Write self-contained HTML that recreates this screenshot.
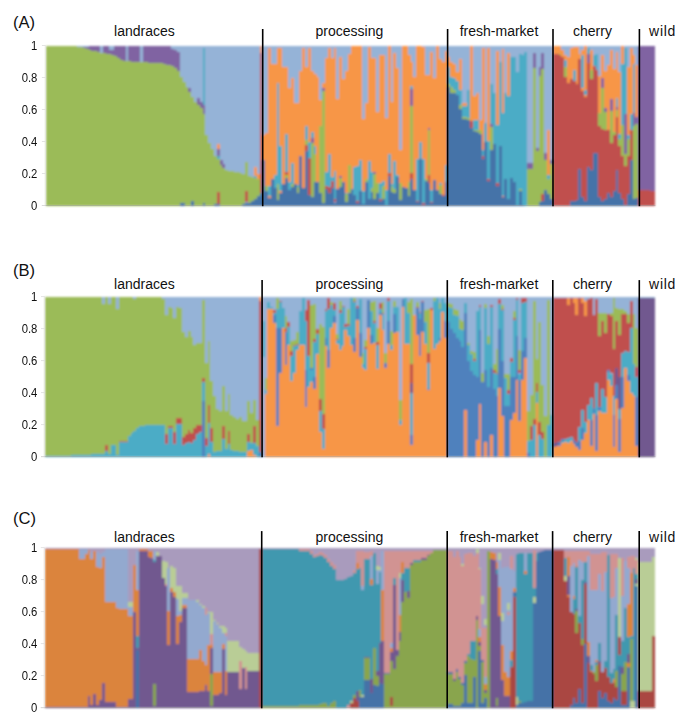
<!DOCTYPE html>
<html><head><meta charset="utf-8"><title>Figure</title>
<style>
html,body{margin:0;padding:0;background:#fff;}
body{width:685px;height:714px;position:relative;overflow:hidden;font-family:"Liberation Sans",sans-serif;color:#111;}
svg{position:absolute;left:0;top:0;}
.pl{position:absolute;left:13px;font-size:16.6px;line-height:18px;}
.g{position:absolute;font-size:14px;line-height:16px;white-space:nowrap;transform:translateX(-50%);}
.y{position:absolute;left:0;width:37.4px;text-align:right;font-size:11.3px;line-height:14px;transform:scaleY(1.07);}
</style></head><body>
<svg width="685" height="714" viewBox="0 0 685 714" shape-rendering="crispEdges">
<defs><filter id="bl" x="-2%" y="-2%" width="104%" height="104%"><feGaussianBlur stdDeviation="0.8"/></filter></defs>
<g filter="url(#bl)">
<rect x="45.9" y="45.5" width="609.47" height="160.2" fill="#95B3D7"/>
<rect x="45.90" y="45.50" width="2.90" height="160.20" fill="#9BBB59"/>
<rect x="48.75" y="45.50" width="2.90" height="160.20" fill="#9BBB59"/>
<rect x="51.60" y="45.66" width="2.90" height="160.04" fill="#9BBB59"/>
<rect x="54.44" y="45.66" width="2.90" height="160.04" fill="#9BBB59"/>
<rect x="57.29" y="45.66" width="2.90" height="160.04" fill="#9BBB59"/>
<rect x="60.14" y="45.66" width="2.90" height="160.04" fill="#9BBB59"/>
<rect x="62.99" y="45.66" width="2.90" height="160.04" fill="#9BBB59"/>
<rect x="62.99" y="45.50" width="2.90" height="0.16" fill="#8064A2"/>
<rect x="65.84" y="45.82" width="2.90" height="159.88" fill="#9BBB59"/>
<rect x="65.84" y="45.50" width="2.90" height="0.32" fill="#8064A2"/>
<rect x="68.68" y="45.82" width="2.90" height="159.88" fill="#9BBB59"/>
<rect x="68.68" y="45.50" width="2.90" height="0.32" fill="#8064A2"/>
<rect x="71.53" y="45.98" width="2.90" height="159.72" fill="#9BBB59"/>
<rect x="71.53" y="45.50" width="2.90" height="0.48" fill="#8064A2"/>
<rect x="74.38" y="46.46" width="2.90" height="159.24" fill="#9BBB59"/>
<rect x="74.38" y="45.50" width="2.90" height="0.96" fill="#8064A2"/>
<rect x="77.23" y="46.78" width="2.90" height="158.92" fill="#9BBB59"/>
<rect x="80.08" y="47.26" width="2.90" height="158.44" fill="#9BBB59"/>
<rect x="80.08" y="46.78" width="2.90" height="0.48" fill="#8064A2"/>
<rect x="82.92" y="48.06" width="2.90" height="157.64" fill="#9BBB59"/>
<rect x="82.92" y="46.78" width="2.90" height="1.28" fill="#8064A2"/>
<rect x="85.77" y="49.02" width="2.90" height="156.68" fill="#9BBB59"/>
<rect x="85.77" y="46.78" width="2.90" height="2.24" fill="#8064A2"/>
<rect x="88.62" y="49.83" width="2.90" height="155.87" fill="#9BBB59"/>
<rect x="88.62" y="45.50" width="2.90" height="4.33" fill="#8064A2"/>
<rect x="91.47" y="50.63" width="2.90" height="155.07" fill="#9BBB59"/>
<rect x="91.47" y="45.50" width="2.90" height="5.13" fill="#8064A2"/>
<rect x="94.32" y="51.43" width="2.90" height="154.27" fill="#9BBB59"/>
<rect x="94.32" y="45.50" width="2.90" height="5.93" fill="#8064A2"/>
<rect x="97.16" y="52.23" width="2.90" height="153.47" fill="#9BBB59"/>
<rect x="97.16" y="45.50" width="2.90" height="6.73" fill="#8064A2"/>
<rect x="100.01" y="52.87" width="2.90" height="152.83" fill="#9BBB59"/>
<rect x="102.86" y="53.35" width="2.90" height="152.35" fill="#9BBB59"/>
<rect x="102.86" y="45.50" width="2.90" height="7.85" fill="#8064A2"/>
<rect x="105.71" y="53.83" width="2.90" height="151.87" fill="#9BBB59"/>
<rect x="105.71" y="45.50" width="2.90" height="8.33" fill="#8064A2"/>
<rect x="108.56" y="54.31" width="2.90" height="151.39" fill="#9BBB59"/>
<rect x="108.56" y="49.50" width="2.90" height="4.81" fill="#8064A2"/>
<rect x="111.40" y="54.79" width="2.90" height="150.91" fill="#9BBB59"/>
<rect x="111.40" y="49.67" width="2.90" height="5.13" fill="#8064A2"/>
<rect x="114.25" y="56.23" width="2.90" height="149.47" fill="#9BBB59"/>
<rect x="114.25" y="45.50" width="2.90" height="10.73" fill="#8064A2"/>
<rect x="117.10" y="58.32" width="2.90" height="147.38" fill="#9BBB59"/>
<rect x="117.10" y="45.50" width="2.90" height="12.82" fill="#8064A2"/>
<rect x="119.95" y="60.40" width="2.90" height="145.30" fill="#9BBB59"/>
<rect x="119.95" y="45.50" width="2.90" height="14.90" fill="#8064A2"/>
<rect x="122.80" y="60.72" width="2.90" height="144.98" fill="#9BBB59"/>
<rect x="122.80" y="45.50" width="2.90" height="15.22" fill="#8064A2"/>
<rect x="125.64" y="61.04" width="2.90" height="144.66" fill="#9BBB59"/>
<rect x="128.49" y="61.36" width="2.90" height="144.34" fill="#9BBB59"/>
<rect x="128.49" y="45.50" width="2.90" height="15.86" fill="#8064A2"/>
<rect x="131.34" y="61.68" width="2.90" height="144.02" fill="#9BBB59"/>
<rect x="131.34" y="45.50" width="2.90" height="16.18" fill="#8064A2"/>
<rect x="134.19" y="62.00" width="2.90" height="143.70" fill="#9BBB59"/>
<rect x="134.19" y="45.50" width="2.90" height="16.50" fill="#8064A2"/>
<rect x="137.04" y="62.16" width="2.90" height="143.54" fill="#9BBB59"/>
<rect x="137.04" y="45.50" width="2.90" height="16.66" fill="#8064A2"/>
<rect x="139.88" y="62.32" width="2.90" height="143.38" fill="#9BBB59"/>
<rect x="142.73" y="62.48" width="2.90" height="143.22" fill="#9BBB59"/>
<rect x="142.73" y="45.50" width="2.90" height="16.98" fill="#8064A2"/>
<rect x="145.58" y="62.48" width="2.90" height="143.22" fill="#9BBB59"/>
<rect x="145.58" y="45.50" width="2.90" height="16.98" fill="#8064A2"/>
<rect x="148.43" y="62.64" width="2.90" height="143.06" fill="#9BBB59"/>
<rect x="148.43" y="45.50" width="2.90" height="17.14" fill="#8064A2"/>
<rect x="151.28" y="62.64" width="2.90" height="143.06" fill="#9BBB59"/>
<rect x="151.28" y="45.50" width="2.90" height="17.14" fill="#8064A2"/>
<rect x="154.12" y="62.80" width="2.90" height="142.90" fill="#9BBB59"/>
<rect x="154.12" y="45.50" width="2.90" height="17.30" fill="#8064A2"/>
<rect x="156.97" y="62.96" width="2.90" height="142.74" fill="#9BBB59"/>
<rect x="156.97" y="45.50" width="2.90" height="17.46" fill="#8064A2"/>
<rect x="159.82" y="63.28" width="2.90" height="142.42" fill="#9BBB59"/>
<rect x="159.82" y="45.50" width="2.90" height="17.78" fill="#8064A2"/>
<rect x="162.67" y="64.08" width="2.90" height="141.62" fill="#9BBB59"/>
<rect x="162.67" y="45.50" width="2.90" height="18.58" fill="#8064A2"/>
<rect x="165.52" y="64.72" width="2.90" height="140.98" fill="#9BBB59"/>
<rect x="165.52" y="45.50" width="2.90" height="19.22" fill="#8064A2"/>
<rect x="168.36" y="65.36" width="2.90" height="140.34" fill="#9BBB59"/>
<rect x="168.36" y="45.50" width="2.90" height="19.86" fill="#8064A2"/>
<rect x="171.21" y="66.17" width="2.90" height="139.53" fill="#9BBB59"/>
<rect x="171.21" y="48.70" width="2.90" height="17.46" fill="#8064A2"/>
<rect x="174.06" y="68.09" width="2.90" height="137.61" fill="#9BBB59"/>
<rect x="174.06" y="49.50" width="2.90" height="18.58" fill="#8064A2"/>
<rect x="176.91" y="71.29" width="2.90" height="134.41" fill="#9BBB59"/>
<rect x="176.91" y="51.91" width="2.90" height="19.38" fill="#8064A2"/>
<rect x="179.76" y="202.50" width="2.90" height="3.20" fill="#4573A8"/>
<rect x="179.76" y="76.90" width="2.90" height="125.60" fill="#9BBB59"/>
<rect x="182.60" y="202.50" width="2.90" height="3.20" fill="#4573A8"/>
<rect x="182.60" y="82.03" width="2.90" height="120.47" fill="#9BBB59"/>
<rect x="185.45" y="86.83" width="2.90" height="118.87" fill="#9BBB59"/>
<rect x="188.30" y="91.64" width="2.90" height="114.06" fill="#9BBB59"/>
<rect x="188.30" y="87.95" width="2.90" height="3.68" fill="#8064A2"/>
<rect x="191.15" y="201.37" width="2.90" height="4.33" fill="#4573A8"/>
<rect x="191.15" y="96.92" width="2.90" height="104.45" fill="#9BBB59"/>
<rect x="194.00" y="102.21" width="2.90" height="103.49" fill="#9BBB59"/>
<rect x="196.84" y="104.77" width="2.90" height="100.93" fill="#9BBB59"/>
<rect x="196.84" y="97.56" width="2.90" height="7.21" fill="#8064A2"/>
<rect x="199.69" y="107.98" width="2.90" height="97.72" fill="#9BBB59"/>
<rect x="199.69" y="102.37" width="2.90" height="5.61" fill="#8064A2"/>
<rect x="202.54" y="202.50" width="2.90" height="3.20" fill="#4573A8"/>
<rect x="202.54" y="113.59" width="2.90" height="88.91" fill="#9BBB59"/>
<rect x="202.54" y="104.77" width="2.90" height="8.81" fill="#8064A2"/>
<rect x="202.54" y="47.90" width="2.90" height="56.87" fill="#4BACC6"/>
<rect x="205.39" y="135.21" width="2.90" height="70.49" fill="#9BBB59"/>
<rect x="208.24" y="142.58" width="2.90" height="63.12" fill="#9BBB59"/>
<rect x="211.08" y="149.47" width="2.90" height="56.23" fill="#9BBB59"/>
<rect x="213.93" y="203.78" width="2.90" height="1.92" fill="#4573A8"/>
<rect x="213.93" y="156.20" width="2.90" height="47.58" fill="#9BBB59"/>
<rect x="216.78" y="203.78" width="2.90" height="1.92" fill="#4573A8"/>
<rect x="216.78" y="192.08" width="2.90" height="11.69" fill="#C0504D"/>
<rect x="216.78" y="159.24" width="2.90" height="32.84" fill="#9BBB59"/>
<rect x="216.78" y="156.04" width="2.90" height="3.20" fill="#4BACC6"/>
<rect x="216.78" y="148.83" width="2.90" height="7.21" fill="#8064A2"/>
<rect x="216.78" y="144.02" width="2.90" height="4.81" fill="#F79646"/>
<rect x="219.63" y="165.49" width="2.90" height="40.21" fill="#9BBB59"/>
<rect x="219.63" y="160.04" width="2.90" height="5.45" fill="#8064A2"/>
<rect x="222.48" y="168.05" width="2.90" height="37.65" fill="#9BBB59"/>
<rect x="222.48" y="164.05" width="2.90" height="4.00" fill="#8064A2"/>
<rect x="225.32" y="169.82" width="2.90" height="35.88" fill="#9BBB59"/>
<rect x="228.17" y="170.78" width="2.90" height="34.92" fill="#9BBB59"/>
<rect x="231.02" y="171.26" width="2.90" height="34.44" fill="#9BBB59"/>
<rect x="233.87" y="171.90" width="2.90" height="33.80" fill="#9BBB59"/>
<rect x="236.72" y="172.38" width="2.90" height="33.32" fill="#9BBB59"/>
<rect x="239.56" y="173.18" width="2.90" height="32.52" fill="#9BBB59"/>
<rect x="242.41" y="204.10" width="2.90" height="1.60" fill="#4573A8"/>
<rect x="242.41" y="173.98" width="2.90" height="30.12" fill="#9BBB59"/>
<rect x="245.26" y="202.50" width="2.90" height="3.20" fill="#4573A8"/>
<rect x="245.26" y="191.28" width="2.90" height="11.21" fill="#C0504D"/>
<rect x="245.26" y="162.45" width="2.90" height="28.84" fill="#9BBB59"/>
<rect x="248.11" y="203.30" width="2.90" height="2.40" fill="#4573A8"/>
<rect x="248.11" y="175.74" width="2.90" height="27.55" fill="#9BBB59"/>
<rect x="250.96" y="200.89" width="2.90" height="4.81" fill="#4573A8"/>
<rect x="250.96" y="176.70" width="2.90" height="24.19" fill="#9BBB59"/>
<rect x="253.80" y="198.49" width="2.90" height="7.21" fill="#4573A8"/>
<rect x="253.80" y="178.47" width="2.90" height="20.03" fill="#9BBB59"/>
<rect x="253.80" y="176.06" width="2.90" height="2.40" fill="#4BACC6"/>
<rect x="253.80" y="167.25" width="2.90" height="8.81" fill="#F79646"/>
<rect x="256.65" y="196.09" width="2.90" height="9.61" fill="#4573A8"/>
<rect x="256.65" y="179.27" width="2.90" height="16.82" fill="#9BBB59"/>
<rect x="256.65" y="173.66" width="2.90" height="5.61" fill="#F79646"/>
<rect x="259.50" y="192.88" width="2.90" height="12.82" fill="#4573A8"/>
<rect x="259.50" y="52.71" width="2.90" height="140.17" fill="#C0504D"/>
<rect x="259.50" y="45.50" width="2.90" height="7.21" fill="#F79646"/>
<rect x="262.35" y="160.20" width="2.90" height="45.50" fill="#4573A8"/>
<rect x="262.35" y="134.57" width="2.90" height="25.63" fill="#F79646"/>
<rect x="265.20" y="191.44" width="2.90" height="14.26" fill="#4573A8"/>
<rect x="265.20" y="186.00" width="2.90" height="5.45" fill="#9BBB59"/>
<rect x="265.20" y="133.29" width="2.90" height="52.71" fill="#F79646"/>
<rect x="268.04" y="198.01" width="2.90" height="7.69" fill="#4573A8"/>
<rect x="268.04" y="196.09" width="2.90" height="1.92" fill="#F79646"/>
<rect x="268.04" y="186.48" width="2.90" height="9.61" fill="#4BACC6"/>
<rect x="268.04" y="48.22" width="2.90" height="138.25" fill="#F79646"/>
<rect x="270.89" y="178.79" width="2.90" height="26.91" fill="#4573A8"/>
<rect x="270.89" y="64.40" width="2.90" height="114.38" fill="#F79646"/>
<rect x="273.74" y="188.08" width="2.90" height="17.62" fill="#4573A8"/>
<rect x="273.74" y="174.62" width="2.90" height="13.46" fill="#4BACC6"/>
<rect x="273.74" y="64.40" width="2.90" height="110.22" fill="#F79646"/>
<rect x="276.59" y="200.41" width="2.90" height="5.29" fill="#4573A8"/>
<rect x="276.59" y="184.23" width="2.90" height="16.18" fill="#9BBB59"/>
<rect x="276.59" y="82.99" width="2.90" height="101.25" fill="#4BACC6"/>
<rect x="276.59" y="48.22" width="2.90" height="34.76" fill="#F79646"/>
<rect x="279.44" y="192.88" width="2.90" height="12.82" fill="#4573A8"/>
<rect x="279.44" y="191.28" width="2.90" height="1.60" fill="#F79646"/>
<rect x="279.44" y="145.95" width="2.90" height="45.34" fill="#4BACC6"/>
<rect x="279.44" y="48.22" width="2.90" height="97.72" fill="#F79646"/>
<rect x="282.28" y="184.23" width="2.90" height="21.47" fill="#4573A8"/>
<rect x="282.28" y="67.45" width="2.90" height="116.79" fill="#F79646"/>
<rect x="285.13" y="178.31" width="2.90" height="27.39" fill="#4573A8"/>
<rect x="285.13" y="175.26" width="2.90" height="3.04" fill="#9BBB59"/>
<rect x="285.13" y="172.22" width="2.90" height="3.04" fill="#C0504D"/>
<rect x="285.13" y="133.93" width="2.90" height="38.29" fill="#4BACC6"/>
<rect x="285.13" y="67.45" width="2.90" height="66.48" fill="#F79646"/>
<rect x="287.98" y="190.16" width="2.90" height="15.54" fill="#4573A8"/>
<rect x="287.98" y="181.83" width="2.90" height="8.33" fill="#4BACC6"/>
<rect x="287.98" y="87.79" width="2.90" height="94.04" fill="#F79646"/>
<rect x="290.83" y="187.28" width="2.90" height="18.42" fill="#4573A8"/>
<rect x="290.83" y="184.23" width="2.90" height="3.04" fill="#9BBB59"/>
<rect x="290.83" y="162.61" width="2.90" height="21.63" fill="#4BACC6"/>
<rect x="290.83" y="78.18" width="2.90" height="84.43" fill="#F79646"/>
<rect x="293.68" y="184.23" width="2.90" height="21.47" fill="#4573A8"/>
<rect x="293.68" y="103.49" width="2.90" height="80.74" fill="#F79646"/>
<rect x="296.52" y="193.20" width="2.90" height="12.50" fill="#4573A8"/>
<rect x="296.52" y="186.64" width="2.90" height="6.57" fill="#9BBB59"/>
<rect x="296.52" y="184.87" width="2.90" height="1.76" fill="#4BACC6"/>
<rect x="296.52" y="103.49" width="2.90" height="81.38" fill="#F79646"/>
<rect x="299.37" y="156.04" width="2.90" height="49.66" fill="#4573A8"/>
<rect x="299.37" y="71.13" width="2.90" height="84.91" fill="#F79646"/>
<rect x="302.22" y="188.08" width="2.90" height="17.62" fill="#4573A8"/>
<rect x="302.22" y="47.58" width="2.90" height="140.50" fill="#F79646"/>
<rect x="305.07" y="151.23" width="2.90" height="54.47" fill="#4573A8"/>
<rect x="305.07" y="145.30" width="2.90" height="5.93" fill="#C0504D"/>
<rect x="305.07" y="140.02" width="2.90" height="5.29" fill="#9BBB59"/>
<rect x="305.07" y="125.60" width="2.90" height="14.42" fill="#4BACC6"/>
<rect x="305.07" y="67.45" width="2.90" height="58.15" fill="#F79646"/>
<rect x="307.92" y="194.97" width="2.90" height="10.73" fill="#4573A8"/>
<rect x="307.92" y="158.44" width="2.90" height="36.53" fill="#C0504D"/>
<rect x="307.92" y="142.26" width="2.90" height="16.18" fill="#4BACC6"/>
<rect x="307.92" y="48.22" width="2.90" height="94.04" fill="#F79646"/>
<rect x="310.76" y="196.89" width="2.90" height="8.81" fill="#4573A8"/>
<rect x="310.76" y="142.90" width="2.90" height="53.99" fill="#9BBB59"/>
<rect x="310.76" y="138.42" width="2.90" height="4.49" fill="#8064A2"/>
<rect x="310.76" y="131.53" width="2.90" height="6.89" fill="#4BACC6"/>
<rect x="310.76" y="71.13" width="2.90" height="60.40" fill="#F79646"/>
<rect x="313.61" y="182.47" width="2.90" height="23.23" fill="#4573A8"/>
<rect x="313.61" y="154.44" width="2.90" height="28.04" fill="#9BBB59"/>
<rect x="313.61" y="145.95" width="2.90" height="8.49" fill="#4BACC6"/>
<rect x="313.61" y="74.02" width="2.90" height="71.93" fill="#F79646"/>
<rect x="316.46" y="181.83" width="2.90" height="23.87" fill="#4573A8"/>
<rect x="316.46" y="77.06" width="2.90" height="104.77" fill="#F79646"/>
<rect x="319.31" y="192.88" width="2.90" height="12.82" fill="#4573A8"/>
<rect x="319.31" y="125.60" width="2.90" height="67.28" fill="#9BBB59"/>
<rect x="319.31" y="99.81" width="2.90" height="25.79" fill="#F79646"/>
<rect x="322.16" y="203.46" width="2.90" height="2.24" fill="#4573A8"/>
<rect x="322.16" y="91.48" width="2.90" height="111.98" fill="#9BBB59"/>
<rect x="322.16" y="87.79" width="2.90" height="3.68" fill="#8064A2"/>
<rect x="322.16" y="82.99" width="2.90" height="4.81" fill="#F79646"/>
<rect x="325.00" y="189.04" width="2.90" height="16.66" fill="#4573A8"/>
<rect x="325.00" y="186.48" width="2.90" height="2.56" fill="#C0504D"/>
<rect x="325.00" y="172.06" width="2.90" height="14.42" fill="#4BACC6"/>
<rect x="325.00" y="57.84" width="2.90" height="114.22" fill="#F79646"/>
<rect x="327.85" y="192.88" width="2.90" height="12.82" fill="#4573A8"/>
<rect x="327.85" y="186.64" width="2.90" height="6.25" fill="#C0504D"/>
<rect x="327.85" y="154.44" width="2.90" height="32.20" fill="#4BACC6"/>
<rect x="327.85" y="47.58" width="2.90" height="106.85" fill="#F79646"/>
<rect x="330.70" y="188.08" width="2.90" height="17.62" fill="#4573A8"/>
<rect x="330.70" y="181.19" width="2.90" height="6.89" fill="#C0504D"/>
<rect x="330.70" y="177.02" width="2.90" height="4.17" fill="#4BACC6"/>
<rect x="330.70" y="57.84" width="2.90" height="119.19" fill="#F79646"/>
<rect x="333.55" y="202.50" width="2.90" height="3.20" fill="#4573A8"/>
<rect x="333.55" y="198.65" width="2.90" height="3.84" fill="#C0504D"/>
<rect x="333.55" y="171.10" width="2.90" height="27.55" fill="#4BACC6"/>
<rect x="333.55" y="47.58" width="2.90" height="123.51" fill="#F79646"/>
<rect x="336.40" y="189.04" width="2.90" height="16.66" fill="#4573A8"/>
<rect x="336.40" y="98.69" width="2.90" height="90.35" fill="#F79646"/>
<rect x="339.24" y="187.28" width="2.90" height="18.42" fill="#4573A8"/>
<rect x="339.24" y="178.31" width="2.90" height="8.97" fill="#9BBB59"/>
<rect x="339.24" y="175.90" width="2.90" height="2.40" fill="#8064A2"/>
<rect x="339.24" y="56.71" width="2.90" height="119.19" fill="#F79646"/>
<rect x="342.09" y="181.83" width="2.90" height="23.87" fill="#4573A8"/>
<rect x="342.09" y="79.46" width="2.90" height="102.37" fill="#F79646"/>
<rect x="344.94" y="202.18" width="2.90" height="3.52" fill="#4573A8"/>
<rect x="344.94" y="193.85" width="2.90" height="8.33" fill="#9BBB59"/>
<rect x="344.94" y="192.88" width="2.90" height="0.96" fill="#4BACC6"/>
<rect x="344.94" y="71.13" width="2.90" height="121.75" fill="#F79646"/>
<rect x="347.79" y="192.56" width="2.90" height="13.14" fill="#4573A8"/>
<rect x="347.79" y="164.53" width="2.90" height="28.03" fill="#9BBB59"/>
<rect x="347.79" y="54.31" width="2.90" height="110.22" fill="#F79646"/>
<rect x="350.64" y="189.04" width="2.90" height="16.66" fill="#4573A8"/>
<rect x="350.64" y="45.50" width="2.90" height="143.54" fill="#F79646"/>
<rect x="353.48" y="194.97" width="2.90" height="10.73" fill="#4573A8"/>
<rect x="353.48" y="166.77" width="2.90" height="28.20" fill="#4BACC6"/>
<rect x="353.48" y="45.50" width="2.90" height="121.27" fill="#F79646"/>
<rect x="356.33" y="202.82" width="2.90" height="2.88" fill="#4573A8"/>
<rect x="356.33" y="201.21" width="2.90" height="1.60" fill="#C0504D"/>
<rect x="356.33" y="166.29" width="2.90" height="34.92" fill="#4BACC6"/>
<rect x="356.33" y="45.50" width="2.90" height="120.79" fill="#F79646"/>
<rect x="359.18" y="191.44" width="2.90" height="14.26" fill="#4573A8"/>
<rect x="359.18" y="160.20" width="2.90" height="31.24" fill="#4BACC6"/>
<rect x="359.18" y="45.50" width="2.90" height="114.70" fill="#F79646"/>
<rect x="362.03" y="204.10" width="2.90" height="1.60" fill="#4573A8"/>
<rect x="362.03" y="191.44" width="2.90" height="12.66" fill="#4BACC6"/>
<rect x="362.03" y="119.03" width="2.90" height="72.41" fill="#F79646"/>
<rect x="364.88" y="181.83" width="2.90" height="23.87" fill="#4573A8"/>
<rect x="364.88" y="178.79" width="2.90" height="3.04" fill="#9BBB59"/>
<rect x="364.88" y="103.49" width="2.90" height="75.29" fill="#F79646"/>
<rect x="367.72" y="198.65" width="2.90" height="7.05" fill="#4573A8"/>
<rect x="367.72" y="161.48" width="2.90" height="37.17" fill="#4BACC6"/>
<rect x="367.72" y="47.10" width="2.90" height="114.38" fill="#F79646"/>
<rect x="370.57" y="192.08" width="2.90" height="13.62" fill="#4573A8"/>
<rect x="370.57" y="188.08" width="2.90" height="4.01" fill="#9BBB59"/>
<rect x="370.57" y="172.22" width="2.90" height="15.86" fill="#4BACC6"/>
<rect x="370.57" y="57.84" width="2.90" height="114.38" fill="#F79646"/>
<rect x="373.42" y="198.65" width="2.90" height="7.05" fill="#4573A8"/>
<rect x="373.42" y="173.66" width="2.90" height="24.99" fill="#9BBB59"/>
<rect x="373.42" y="171.58" width="2.90" height="2.08" fill="#8064A2"/>
<rect x="373.42" y="57.84" width="2.90" height="113.74" fill="#F79646"/>
<rect x="376.27" y="193.20" width="2.90" height="12.50" fill="#4573A8"/>
<rect x="376.27" y="183.11" width="2.90" height="10.09" fill="#9BBB59"/>
<rect x="376.27" y="111.82" width="2.90" height="71.29" fill="#F79646"/>
<rect x="379.12" y="201.05" width="2.90" height="4.65" fill="#4573A8"/>
<rect x="379.12" y="199.29" width="2.90" height="1.76" fill="#C0504D"/>
<rect x="379.12" y="183.11" width="2.90" height="16.18" fill="#4BACC6"/>
<rect x="379.12" y="55.43" width="2.90" height="127.68" fill="#F79646"/>
<rect x="381.96" y="199.29" width="2.90" height="6.41" fill="#4573A8"/>
<rect x="381.96" y="185.51" width="2.90" height="13.78" fill="#9BBB59"/>
<rect x="381.96" y="180.71" width="2.90" height="4.81" fill="#4BACC6"/>
<rect x="381.96" y="55.43" width="2.90" height="125.28" fill="#F79646"/>
<rect x="384.81" y="204.58" width="2.90" height="1.12" fill="#4573A8"/>
<rect x="384.81" y="190.16" width="2.90" height="14.42" fill="#4BACC6"/>
<rect x="384.81" y="117.75" width="2.90" height="72.41" fill="#F79646"/>
<rect x="387.66" y="175.90" width="2.90" height="29.80" fill="#4573A8"/>
<rect x="387.66" y="172.86" width="2.90" height="3.04" fill="#C0504D"/>
<rect x="387.66" y="154.28" width="2.90" height="18.58" fill="#4BACC6"/>
<rect x="387.66" y="45.50" width="2.90" height="108.78" fill="#F79646"/>
<rect x="390.51" y="192.08" width="2.90" height="13.62" fill="#4573A8"/>
<rect x="390.51" y="185.51" width="2.90" height="6.57" fill="#9BBB59"/>
<rect x="390.51" y="184.23" width="2.90" height="1.28" fill="#4BACC6"/>
<rect x="390.51" y="102.21" width="2.90" height="82.02" fill="#F79646"/>
<rect x="393.36" y="193.20" width="2.90" height="12.50" fill="#4573A8"/>
<rect x="393.36" y="189.04" width="2.90" height="4.17" fill="#9BBB59"/>
<rect x="393.36" y="161.48" width="2.90" height="27.55" fill="#4BACC6"/>
<rect x="393.36" y="53.03" width="2.90" height="108.46" fill="#F79646"/>
<rect x="396.20" y="177.02" width="2.90" height="28.68" fill="#4573A8"/>
<rect x="396.20" y="174.62" width="2.90" height="2.40" fill="#4BACC6"/>
<rect x="396.20" y="67.93" width="2.90" height="106.69" fill="#F79646"/>
<rect x="399.05" y="199.77" width="2.90" height="5.93" fill="#4573A8"/>
<rect x="399.05" y="183.11" width="2.90" height="16.66" fill="#9BBB59"/>
<rect x="399.05" y="150.11" width="2.90" height="33.00" fill="#F79646"/>
<rect x="401.90" y="186.64" width="2.90" height="19.06" fill="#4573A8"/>
<rect x="401.90" y="45.50" width="2.90" height="141.14" fill="#F79646"/>
<rect x="404.75" y="188.40" width="2.90" height="17.30" fill="#4573A8"/>
<rect x="404.75" y="45.50" width="2.90" height="142.90" fill="#F79646"/>
<rect x="407.60" y="196.25" width="2.90" height="9.45" fill="#4573A8"/>
<rect x="407.60" y="181.83" width="2.90" height="14.42" fill="#9BBB59"/>
<rect x="407.60" y="55.43" width="2.90" height="126.40" fill="#F79646"/>
<rect x="410.44" y="178.79" width="2.90" height="26.91" fill="#4573A8"/>
<rect x="410.44" y="172.86" width="2.90" height="5.93" fill="#C0504D"/>
<rect x="410.44" y="105.90" width="2.90" height="66.96" fill="#9BBB59"/>
<rect x="410.44" y="89.07" width="2.90" height="16.82" fill="#8064A2"/>
<rect x="410.44" y="86.03" width="2.90" height="3.04" fill="#4BACC6"/>
<rect x="410.44" y="61.52" width="2.90" height="24.51" fill="#F79646"/>
<rect x="413.29" y="189.68" width="2.90" height="16.02" fill="#4573A8"/>
<rect x="413.29" y="77.06" width="2.90" height="112.62" fill="#F79646"/>
<rect x="416.14" y="202.18" width="2.90" height="3.52" fill="#4573A8"/>
<rect x="416.14" y="200.89" width="2.90" height="1.28" fill="#C0504D"/>
<rect x="416.14" y="159.08" width="2.90" height="41.81" fill="#4BACC6"/>
<rect x="416.14" y="46.30" width="2.90" height="112.78" fill="#F79646"/>
<rect x="418.99" y="159.08" width="2.90" height="46.62" fill="#4573A8"/>
<rect x="418.99" y="142.26" width="2.90" height="16.82" fill="#4BACC6"/>
<rect x="418.99" y="45.50" width="2.90" height="96.76" fill="#F79646"/>
<rect x="421.84" y="204.58" width="2.90" height="1.12" fill="#4573A8"/>
<rect x="421.84" y="203.30" width="2.90" height="1.28" fill="#C0504D"/>
<rect x="421.84" y="159.08" width="2.90" height="44.22" fill="#4BACC6"/>
<rect x="421.84" y="47.10" width="2.90" height="111.98" fill="#F79646"/>
<rect x="424.68" y="181.19" width="2.90" height="24.51" fill="#4573A8"/>
<rect x="424.68" y="179.27" width="2.90" height="1.92" fill="#9BBB59"/>
<rect x="424.68" y="74.66" width="2.90" height="104.61" fill="#F79646"/>
<rect x="427.53" y="183.11" width="2.90" height="22.59" fill="#4573A8"/>
<rect x="427.53" y="174.62" width="2.90" height="8.49" fill="#C0504D"/>
<rect x="427.53" y="130.25" width="2.90" height="44.38" fill="#9BBB59"/>
<rect x="427.53" y="128.48" width="2.90" height="1.76" fill="#8064A2"/>
<rect x="427.53" y="74.66" width="2.90" height="53.83" fill="#F79646"/>
<rect x="430.38" y="203.46" width="2.90" height="2.24" fill="#4573A8"/>
<rect x="430.38" y="202.18" width="2.90" height="1.28" fill="#C0504D"/>
<rect x="430.38" y="189.68" width="2.90" height="12.50" fill="#4BACC6"/>
<rect x="430.38" y="52.39" width="2.90" height="137.29" fill="#F79646"/>
<rect x="433.23" y="180.07" width="2.90" height="25.63" fill="#4573A8"/>
<rect x="433.23" y="78.18" width="2.90" height="101.89" fill="#F79646"/>
<rect x="436.08" y="189.68" width="2.90" height="16.02" fill="#4573A8"/>
<rect x="436.08" y="46.30" width="2.90" height="143.38" fill="#F79646"/>
<rect x="438.92" y="194.49" width="2.90" height="11.21" fill="#4573A8"/>
<rect x="438.92" y="184.87" width="2.90" height="9.61" fill="#9BBB59"/>
<rect x="438.92" y="183.11" width="2.90" height="1.76" fill="#4BACC6"/>
<rect x="438.92" y="59.12" width="2.90" height="123.99" fill="#F79646"/>
<rect x="441.77" y="196.25" width="2.90" height="9.45" fill="#4573A8"/>
<rect x="441.77" y="195.29" width="2.90" height="0.96" fill="#C0504D"/>
<rect x="441.77" y="61.52" width="2.90" height="133.77" fill="#F79646"/>
<rect x="444.62" y="181.83" width="2.90" height="23.87" fill="#4573A8"/>
<rect x="444.62" y="164.53" width="2.90" height="17.30" fill="#4BACC6"/>
<rect x="444.62" y="50.63" width="2.90" height="113.90" fill="#F79646"/>
<rect x="447.47" y="87.15" width="2.90" height="118.55" fill="#4573A8"/>
<rect x="447.47" y="84.27" width="2.90" height="2.88" fill="#9BBB59"/>
<rect x="447.47" y="66.81" width="2.90" height="17.46" fill="#4BACC6"/>
<rect x="447.47" y="57.19" width="2.90" height="9.61" fill="#F79646"/>
<rect x="450.32" y="92.60" width="2.90" height="113.10" fill="#4573A8"/>
<rect x="450.32" y="86.67" width="2.90" height="5.93" fill="#9BBB59"/>
<rect x="450.32" y="77.06" width="2.90" height="9.61" fill="#4BACC6"/>
<rect x="450.32" y="61.52" width="2.90" height="15.54" fill="#F79646"/>
<rect x="453.16" y="92.60" width="2.90" height="113.10" fill="#4573A8"/>
<rect x="453.16" y="90.36" width="2.90" height="2.24" fill="#9BBB59"/>
<rect x="453.16" y="78.18" width="2.90" height="12.18" fill="#4BACC6"/>
<rect x="453.16" y="63.92" width="2.90" height="14.26" fill="#F79646"/>
<rect x="456.01" y="95.00" width="2.90" height="110.70" fill="#4573A8"/>
<rect x="456.01" y="80.74" width="2.90" height="14.26" fill="#4BACC6"/>
<rect x="456.01" y="72.25" width="2.90" height="8.49" fill="#F79646"/>
<rect x="458.86" y="108.78" width="2.90" height="96.92" fill="#4573A8"/>
<rect x="458.86" y="104.77" width="2.90" height="4.00" fill="#9BBB59"/>
<rect x="458.86" y="90.36" width="2.90" height="14.42" fill="#4BACC6"/>
<rect x="458.86" y="59.12" width="2.90" height="31.24" fill="#F79646"/>
<rect x="461.71" y="119.03" width="2.90" height="86.67" fill="#4573A8"/>
<rect x="461.71" y="116.79" width="2.90" height="2.24" fill="#9BBB59"/>
<rect x="461.71" y="106.06" width="2.90" height="10.73" fill="#4BACC6"/>
<rect x="461.71" y="103.49" width="2.90" height="2.56" fill="#F79646"/>
<rect x="464.56" y="119.03" width="2.90" height="86.67" fill="#4573A8"/>
<rect x="464.56" y="117.27" width="2.90" height="1.76" fill="#9BBB59"/>
<rect x="464.56" y="106.06" width="2.90" height="11.21" fill="#4BACC6"/>
<rect x="464.56" y="103.49" width="2.90" height="2.56" fill="#F79646"/>
<rect x="467.40" y="119.67" width="2.90" height="86.03" fill="#4573A8"/>
<rect x="467.40" y="117.91" width="2.90" height="1.76" fill="#9BBB59"/>
<rect x="467.40" y="90.36" width="2.90" height="27.55" fill="#4BACC6"/>
<rect x="470.25" y="127.68" width="2.90" height="78.02" fill="#4573A8"/>
<rect x="470.25" y="121.43" width="2.90" height="6.25" fill="#C0504D"/>
<rect x="470.25" y="45.50" width="2.90" height="75.93" fill="#F79646"/>
<rect x="473.10" y="130.89" width="2.90" height="74.81" fill="#4573A8"/>
<rect x="473.10" y="129.61" width="2.90" height="1.28" fill="#9BBB59"/>
<rect x="473.10" y="119.67" width="2.90" height="9.93" fill="#4BACC6"/>
<rect x="473.10" y="96.28" width="2.90" height="23.39" fill="#F79646"/>
<rect x="475.95" y="132.01" width="2.90" height="73.69" fill="#4573A8"/>
<rect x="475.95" y="130.41" width="2.90" height="1.60" fill="#9BBB59"/>
<rect x="475.95" y="120.15" width="2.90" height="10.25" fill="#4BACC6"/>
<rect x="475.95" y="92.60" width="2.90" height="27.55" fill="#F79646"/>
<rect x="478.80" y="133.93" width="2.90" height="71.77" fill="#4573A8"/>
<rect x="478.80" y="130.41" width="2.90" height="3.52" fill="#9BBB59"/>
<rect x="478.80" y="120.15" width="2.90" height="10.25" fill="#F79646"/>
<rect x="481.64" y="159.08" width="2.90" height="46.62" fill="#4573A8"/>
<rect x="481.64" y="156.04" width="2.90" height="3.04" fill="#C0504D"/>
<rect x="481.64" y="150.11" width="2.90" height="5.93" fill="#4BACC6"/>
<rect x="481.64" y="48.22" width="2.90" height="101.89" fill="#F79646"/>
<rect x="484.49" y="142.26" width="2.90" height="63.44" fill="#4573A8"/>
<rect x="484.49" y="122.56" width="2.90" height="19.70" fill="#4BACC6"/>
<rect x="487.34" y="181.19" width="2.90" height="24.51" fill="#4573A8"/>
<rect x="487.34" y="178.79" width="2.90" height="2.40" fill="#C0504D"/>
<rect x="487.34" y="141.14" width="2.90" height="37.65" fill="#4BACC6"/>
<rect x="487.34" y="48.22" width="2.90" height="92.92" fill="#F79646"/>
<rect x="490.19" y="150.11" width="2.90" height="55.59" fill="#4573A8"/>
<rect x="490.19" y="126.72" width="2.90" height="23.39" fill="#9BBB59"/>
<rect x="490.19" y="123.84" width="2.90" height="2.88" fill="#8064A2"/>
<rect x="490.19" y="84.27" width="2.90" height="39.57" fill="#4BACC6"/>
<rect x="493.04" y="143.54" width="2.90" height="62.16" fill="#4573A8"/>
<rect x="493.04" y="92.60" width="2.90" height="50.94" fill="#4BACC6"/>
<rect x="495.88" y="185.51" width="2.90" height="20.19" fill="#4573A8"/>
<rect x="495.88" y="183.11" width="2.90" height="2.40" fill="#C0504D"/>
<rect x="495.88" y="124.96" width="2.90" height="58.15" fill="#4BACC6"/>
<rect x="495.88" y="51.27" width="2.90" height="73.69" fill="#F79646"/>
<rect x="498.73" y="145.95" width="2.90" height="59.75" fill="#4573A8"/>
<rect x="498.73" y="61.52" width="2.90" height="84.43" fill="#4BACC6"/>
<rect x="501.58" y="197.37" width="2.90" height="8.33" fill="#4573A8"/>
<rect x="501.58" y="196.09" width="2.90" height="1.28" fill="#F79646"/>
<rect x="501.58" y="112.94" width="2.90" height="83.14" fill="#4BACC6"/>
<rect x="501.58" y="48.86" width="2.90" height="64.08" fill="#F79646"/>
<rect x="504.43" y="179.43" width="2.90" height="26.27" fill="#4573A8"/>
<rect x="504.43" y="92.60" width="2.90" height="86.83" fill="#4BACC6"/>
<rect x="507.28" y="198.65" width="2.90" height="7.05" fill="#4573A8"/>
<rect x="507.28" y="96.28" width="2.90" height="102.37" fill="#4BACC6"/>
<rect x="507.28" y="53.03" width="2.90" height="43.25" fill="#F79646"/>
<rect x="510.12" y="177.66" width="2.90" height="28.03" fill="#4573A8"/>
<rect x="510.12" y="56.71" width="2.90" height="120.95" fill="#4BACC6"/>
<rect x="512.97" y="181.83" width="2.90" height="23.87" fill="#4573A8"/>
<rect x="512.97" y="56.71" width="2.90" height="125.12" fill="#4BACC6"/>
<rect x="515.82" y="204.58" width="2.90" height="1.12" fill="#4573A8"/>
<rect x="515.82" y="72.25" width="2.90" height="132.33" fill="#4BACC6"/>
<rect x="518.67" y="190.80" width="2.90" height="14.90" fill="#4573A8"/>
<rect x="518.67" y="189.04" width="2.90" height="1.76" fill="#9BBB59"/>
<rect x="518.67" y="53.67" width="2.90" height="135.37" fill="#4BACC6"/>
<rect x="521.52" y="204.58" width="2.90" height="1.12" fill="#4573A8"/>
<rect x="521.52" y="54.79" width="2.90" height="149.79" fill="#4BACC6"/>
<rect x="524.36" y="52.39" width="2.90" height="153.31" fill="#4BACC6"/>
<rect x="527.21" y="169.17" width="2.90" height="36.53" fill="#9BBB59"/>
<rect x="527.21" y="162.61" width="2.90" height="6.57" fill="#8064A2"/>
<rect x="530.06" y="169.17" width="2.90" height="36.53" fill="#9BBB59"/>
<rect x="530.06" y="162.61" width="2.90" height="6.57" fill="#8064A2"/>
<rect x="532.91" y="68.09" width="2.90" height="137.61" fill="#9BBB59"/>
<rect x="532.91" y="53.03" width="2.90" height="15.06" fill="#8064A2"/>
<rect x="535.76" y="150.59" width="2.90" height="55.11" fill="#9BBB59"/>
<rect x="535.76" y="147.71" width="2.90" height="2.88" fill="#8064A2"/>
<rect x="538.60" y="202.18" width="2.90" height="3.52" fill="#4573A8"/>
<rect x="538.60" y="75.78" width="2.90" height="126.40" fill="#9BBB59"/>
<rect x="538.60" y="67.45" width="2.90" height="8.33" fill="#8064A2"/>
<rect x="541.45" y="200.89" width="2.90" height="4.81" fill="#4573A8"/>
<rect x="541.45" y="194.49" width="2.90" height="6.41" fill="#C0504D"/>
<rect x="541.45" y="69.21" width="2.90" height="125.28" fill="#9BBB59"/>
<rect x="541.45" y="53.03" width="2.90" height="16.18" fill="#8064A2"/>
<rect x="544.30" y="189.68" width="2.90" height="16.02" fill="#4573A8"/>
<rect x="544.30" y="160.20" width="2.90" height="29.48" fill="#9BBB59"/>
<rect x="544.30" y="152.99" width="2.90" height="7.21" fill="#8064A2"/>
<rect x="547.15" y="193.85" width="2.90" height="11.85" fill="#4573A8"/>
<rect x="547.15" y="179.43" width="2.90" height="14.42" fill="#9BBB59"/>
<rect x="547.15" y="174.62" width="2.90" height="4.81" fill="#4BACC6"/>
<rect x="547.15" y="130.25" width="2.90" height="44.38" fill="#F79646"/>
<rect x="550.00" y="198.65" width="2.90" height="7.05" fill="#4573A8"/>
<rect x="550.00" y="163.89" width="2.90" height="34.76" fill="#9BBB59"/>
<rect x="550.00" y="159.72" width="2.90" height="4.17" fill="#4573A8"/>
<rect x="552.84" y="53.67" width="2.90" height="152.03" fill="#C0504D"/>
<rect x="552.84" y="46.46" width="2.90" height="7.21" fill="#F79646"/>
<rect x="555.69" y="54.31" width="2.90" height="151.39" fill="#C0504D"/>
<rect x="555.69" y="46.46" width="2.90" height="7.85" fill="#F79646"/>
<rect x="558.54" y="55.43" width="2.90" height="150.27" fill="#C0504D"/>
<rect x="558.54" y="53.51" width="2.90" height="1.92" fill="#9BBB59"/>
<rect x="558.54" y="46.46" width="2.90" height="7.05" fill="#F79646"/>
<rect x="561.39" y="56.71" width="2.90" height="148.99" fill="#C0504D"/>
<rect x="561.39" y="49.50" width="2.90" height="7.21" fill="#F79646"/>
<rect x="564.24" y="77.06" width="2.90" height="128.64" fill="#C0504D"/>
<rect x="564.24" y="67.45" width="2.90" height="9.61" fill="#9BBB59"/>
<rect x="564.24" y="60.24" width="2.90" height="7.21" fill="#4BACC6"/>
<rect x="564.24" y="55.43" width="2.90" height="4.81" fill="#F79646"/>
<rect x="567.08" y="82.99" width="2.90" height="122.71" fill="#C0504D"/>
<rect x="567.08" y="56.71" width="2.90" height="26.27" fill="#F79646"/>
<rect x="569.93" y="200.89" width="2.90" height="4.81" fill="#4573A8"/>
<rect x="569.93" y="79.46" width="2.90" height="121.43" fill="#C0504D"/>
<rect x="569.93" y="48.22" width="2.90" height="31.24" fill="#F79646"/>
<rect x="572.78" y="200.89" width="2.90" height="4.81" fill="#4573A8"/>
<rect x="572.78" y="80.74" width="2.90" height="120.15" fill="#C0504D"/>
<rect x="572.78" y="69.85" width="2.90" height="10.89" fill="#4BACC6"/>
<rect x="572.78" y="47.10" width="2.90" height="22.75" fill="#F79646"/>
<rect x="575.63" y="199.77" width="2.90" height="5.93" fill="#4573A8"/>
<rect x="575.63" y="83.95" width="2.90" height="115.82" fill="#C0504D"/>
<rect x="575.63" y="47.10" width="2.90" height="36.85" fill="#F79646"/>
<rect x="578.48" y="168.69" width="2.90" height="37.01" fill="#4573A8"/>
<rect x="578.48" y="59.12" width="2.90" height="109.58" fill="#C0504D"/>
<rect x="578.48" y="54.31" width="2.90" height="4.81" fill="#F79646"/>
<rect x="581.32" y="197.37" width="2.90" height="8.33" fill="#4573A8"/>
<rect x="581.32" y="91.48" width="2.90" height="105.89" fill="#C0504D"/>
<rect x="581.32" y="88.43" width="2.90" height="3.04" fill="#F79646"/>
<rect x="581.32" y="55.43" width="2.90" height="33.00" fill="#4BACC6"/>
<rect x="581.32" y="49.50" width="2.90" height="5.93" fill="#F79646"/>
<rect x="584.17" y="200.89" width="2.90" height="4.81" fill="#4573A8"/>
<rect x="584.17" y="97.40" width="2.90" height="103.49" fill="#C0504D"/>
<rect x="584.17" y="95.16" width="2.90" height="2.24" fill="#F79646"/>
<rect x="584.17" y="90.36" width="2.90" height="4.81" fill="#4BACC6"/>
<rect x="584.17" y="45.50" width="2.90" height="44.86" fill="#F79646"/>
<rect x="587.02" y="167.41" width="2.90" height="38.29" fill="#4573A8"/>
<rect x="587.02" y="63.28" width="2.90" height="104.13" fill="#C0504D"/>
<rect x="587.02" y="53.67" width="2.90" height="9.61" fill="#8064A2"/>
<rect x="587.02" y="48.22" width="2.90" height="5.45" fill="#4BACC6"/>
<rect x="589.87" y="169.82" width="2.90" height="35.88" fill="#4573A8"/>
<rect x="589.87" y="79.46" width="2.90" height="90.35" fill="#C0504D"/>
<rect x="589.87" y="69.85" width="2.90" height="9.61" fill="#9BBB59"/>
<rect x="589.87" y="49.50" width="2.90" height="20.35" fill="#F79646"/>
<rect x="592.72" y="152.51" width="2.90" height="53.19" fill="#4573A8"/>
<rect x="592.72" y="66.33" width="2.90" height="86.19" fill="#C0504D"/>
<rect x="592.72" y="55.43" width="2.90" height="10.89" fill="#4BACC6"/>
<rect x="595.56" y="152.99" width="2.90" height="52.71" fill="#4573A8"/>
<rect x="595.56" y="69.85" width="2.90" height="83.14" fill="#C0504D"/>
<rect x="595.56" y="54.31" width="2.90" height="15.54" fill="#4BACC6"/>
<rect x="598.41" y="197.37" width="2.90" height="8.33" fill="#4573A8"/>
<rect x="598.41" y="125.60" width="2.90" height="71.77" fill="#C0504D"/>
<rect x="598.41" y="112.94" width="2.90" height="12.66" fill="#9BBB59"/>
<rect x="598.41" y="75.94" width="2.90" height="37.01" fill="#F79646"/>
<rect x="601.26" y="200.89" width="2.90" height="4.81" fill="#4573A8"/>
<rect x="601.26" y="129.12" width="2.90" height="71.77" fill="#C0504D"/>
<rect x="601.26" y="88.43" width="2.90" height="40.69" fill="#9BBB59"/>
<rect x="601.26" y="78.18" width="2.90" height="10.25" fill="#8064A2"/>
<rect x="601.26" y="55.43" width="2.90" height="22.75" fill="#F79646"/>
<rect x="604.11" y="198.65" width="2.90" height="7.05" fill="#4573A8"/>
<rect x="604.11" y="130.25" width="2.90" height="68.41" fill="#C0504D"/>
<rect x="604.11" y="112.46" width="2.90" height="17.78" fill="#9BBB59"/>
<rect x="604.11" y="108.14" width="2.90" height="4.33" fill="#8064A2"/>
<rect x="604.11" y="71.13" width="2.90" height="37.01" fill="#F79646"/>
<rect x="606.96" y="193.20" width="2.90" height="12.50" fill="#4573A8"/>
<rect x="606.96" y="130.25" width="2.90" height="62.96" fill="#C0504D"/>
<rect x="606.96" y="65.04" width="2.90" height="65.20" fill="#F79646"/>
<rect x="609.80" y="197.37" width="2.90" height="8.33" fill="#4573A8"/>
<rect x="609.80" y="142.90" width="2.90" height="54.47" fill="#C0504D"/>
<rect x="609.80" y="110.54" width="2.90" height="32.36" fill="#9BBB59"/>
<rect x="609.80" y="99.17" width="2.90" height="11.37" fill="#8064A2"/>
<rect x="609.80" y="49.50" width="2.90" height="49.66" fill="#F79646"/>
<rect x="612.65" y="191.44" width="2.90" height="14.26" fill="#4573A8"/>
<rect x="612.65" y="135.05" width="2.90" height="56.39" fill="#C0504D"/>
<rect x="612.65" y="131.53" width="2.90" height="3.52" fill="#9BBB59"/>
<rect x="612.65" y="68.57" width="2.90" height="62.96" fill="#F79646"/>
<rect x="615.50" y="169.82" width="2.90" height="35.88" fill="#4573A8"/>
<rect x="615.50" y="116.63" width="2.90" height="53.19" fill="#C0504D"/>
<rect x="615.50" y="109.58" width="2.90" height="7.05" fill="#9BBB59"/>
<rect x="615.50" y="107.18" width="2.90" height="2.40" fill="#8064A2"/>
<rect x="615.50" y="98.05" width="2.90" height="9.13" fill="#4BACC6"/>
<rect x="615.50" y="52.39" width="2.90" height="45.66" fill="#F79646"/>
<rect x="618.35" y="192.56" width="2.90" height="13.14" fill="#4573A8"/>
<rect x="618.35" y="145.95" width="2.90" height="46.62" fill="#C0504D"/>
<rect x="618.35" y="139.22" width="2.90" height="6.73" fill="#9BBB59"/>
<rect x="618.35" y="134.41" width="2.90" height="4.81" fill="#4BACC6"/>
<rect x="618.35" y="72.25" width="2.90" height="62.16" fill="#F79646"/>
<rect x="621.20" y="198.65" width="2.90" height="7.05" fill="#4573A8"/>
<rect x="621.20" y="156.04" width="2.90" height="42.61" fill="#C0504D"/>
<rect x="621.20" y="124.96" width="2.90" height="31.08" fill="#9BBB59"/>
<rect x="621.20" y="63.92" width="2.90" height="61.04" fill="#4BACC6"/>
<rect x="621.20" y="46.46" width="2.90" height="17.46" fill="#F79646"/>
<rect x="624.04" y="204.58" width="2.90" height="1.12" fill="#4573A8"/>
<rect x="624.04" y="166.29" width="2.90" height="38.29" fill="#C0504D"/>
<rect x="624.04" y="154.28" width="2.90" height="12.01" fill="#9BBB59"/>
<rect x="624.04" y="114.23" width="2.90" height="40.05" fill="#8064A2"/>
<rect x="624.04" y="48.22" width="2.90" height="66.00" fill="#4BACC6"/>
<rect x="626.89" y="193.85" width="2.90" height="11.85" fill="#4573A8"/>
<rect x="626.89" y="156.04" width="2.90" height="37.81" fill="#C0504D"/>
<rect x="626.89" y="138.74" width="2.90" height="17.30" fill="#9BBB59"/>
<rect x="626.89" y="135.05" width="2.90" height="3.68" fill="#4BACC6"/>
<rect x="626.89" y="67.45" width="2.90" height="67.60" fill="#F79646"/>
<rect x="629.74" y="160.20" width="2.90" height="45.50" fill="#4573A8"/>
<rect x="629.74" y="130.25" width="2.90" height="29.96" fill="#C0504D"/>
<rect x="629.74" y="114.23" width="2.90" height="16.02" fill="#4BACC6"/>
<rect x="629.74" y="48.22" width="2.90" height="66.00" fill="#F79646"/>
<rect x="632.59" y="198.65" width="2.90" height="7.05" fill="#4573A8"/>
<rect x="632.59" y="125.60" width="2.90" height="73.05" fill="#9BBB59"/>
<rect x="632.59" y="112.94" width="2.90" height="12.66" fill="#8064A2"/>
<rect x="632.59" y="63.92" width="2.90" height="49.02" fill="#4BACC6"/>
<rect x="632.59" y="55.43" width="2.90" height="8.49" fill="#F79646"/>
<rect x="635.44" y="198.01" width="2.90" height="7.69" fill="#4573A8"/>
<rect x="635.44" y="123.84" width="2.90" height="74.17" fill="#9BBB59"/>
<rect x="635.44" y="116.63" width="2.90" height="7.21" fill="#8064A2"/>
<rect x="635.44" y="65.04" width="2.90" height="51.58" fill="#F79646"/>
<rect x="638.28" y="189.68" width="2.90" height="16.02" fill="#C0504D"/>
<rect x="638.28" y="45.50" width="2.90" height="144.18" fill="#8064A2"/>
<rect x="641.13" y="189.68" width="2.90" height="16.02" fill="#C0504D"/>
<rect x="641.13" y="45.50" width="2.90" height="144.18" fill="#8064A2"/>
<rect x="643.98" y="189.68" width="2.90" height="16.02" fill="#C0504D"/>
<rect x="643.98" y="45.50" width="2.90" height="144.18" fill="#8064A2"/>
<rect x="646.83" y="189.68" width="2.90" height="16.02" fill="#C0504D"/>
<rect x="646.83" y="45.50" width="2.90" height="144.18" fill="#8064A2"/>
<rect x="649.68" y="191.28" width="2.90" height="14.42" fill="#C0504D"/>
<rect x="649.68" y="45.50" width="2.90" height="145.78" fill="#8064A2"/>
<rect x="652.52" y="191.28" width="2.90" height="14.42" fill="#C0504D"/>
<rect x="652.52" y="45.50" width="2.90" height="145.78" fill="#8064A2"/>
<rect x="45.0" y="296.6" width="610.33" height="160.2" fill="#95B3D7"/>
<rect x="45.00" y="456.48" width="2.90" height="0.32" fill="#4BACC6"/>
<rect x="45.00" y="296.60" width="2.90" height="159.88" fill="#9BBB59"/>
<rect x="47.85" y="456.32" width="2.90" height="0.48" fill="#4BACC6"/>
<rect x="47.85" y="296.60" width="2.90" height="159.72" fill="#9BBB59"/>
<rect x="50.70" y="456.16" width="2.90" height="0.64" fill="#4BACC6"/>
<rect x="50.70" y="296.60" width="2.90" height="159.56" fill="#9BBB59"/>
<rect x="53.56" y="456.16" width="2.90" height="0.64" fill="#4BACC6"/>
<rect x="53.56" y="296.60" width="2.90" height="159.56" fill="#9BBB59"/>
<rect x="56.41" y="456.00" width="2.90" height="0.80" fill="#4BACC6"/>
<rect x="56.41" y="296.60" width="2.90" height="159.40" fill="#9BBB59"/>
<rect x="59.26" y="455.84" width="2.90" height="0.96" fill="#4BACC6"/>
<rect x="59.26" y="296.60" width="2.90" height="159.24" fill="#9BBB59"/>
<rect x="62.11" y="455.68" width="2.90" height="1.12" fill="#4BACC6"/>
<rect x="62.11" y="297.08" width="2.90" height="158.60" fill="#9BBB59"/>
<rect x="64.96" y="455.52" width="2.90" height="1.28" fill="#4BACC6"/>
<rect x="64.96" y="297.08" width="2.90" height="158.44" fill="#9BBB59"/>
<rect x="67.82" y="455.52" width="2.90" height="1.28" fill="#4BACC6"/>
<rect x="67.82" y="297.08" width="2.90" height="158.44" fill="#9BBB59"/>
<rect x="70.67" y="455.36" width="2.90" height="1.44" fill="#4BACC6"/>
<rect x="70.67" y="297.08" width="2.90" height="158.28" fill="#9BBB59"/>
<rect x="73.52" y="455.20" width="2.90" height="1.60" fill="#4BACC6"/>
<rect x="73.52" y="297.08" width="2.90" height="158.12" fill="#9BBB59"/>
<rect x="76.37" y="455.04" width="2.90" height="1.76" fill="#4BACC6"/>
<rect x="76.37" y="297.08" width="2.90" height="157.96" fill="#9BBB59"/>
<rect x="79.22" y="454.88" width="2.90" height="1.92" fill="#4BACC6"/>
<rect x="79.22" y="297.08" width="2.90" height="157.80" fill="#9BBB59"/>
<rect x="82.08" y="454.88" width="2.90" height="1.92" fill="#4BACC6"/>
<rect x="82.08" y="297.08" width="2.90" height="157.80" fill="#9BBB59"/>
<rect x="84.93" y="454.72" width="2.90" height="2.08" fill="#4BACC6"/>
<rect x="84.93" y="297.08" width="2.90" height="157.64" fill="#9BBB59"/>
<rect x="87.78" y="454.56" width="2.90" height="2.24" fill="#4BACC6"/>
<rect x="87.78" y="297.08" width="2.90" height="157.48" fill="#9BBB59"/>
<rect x="90.63" y="454.40" width="2.90" height="2.40" fill="#4BACC6"/>
<rect x="90.63" y="297.08" width="2.90" height="157.32" fill="#9BBB59"/>
<rect x="93.48" y="454.24" width="2.90" height="2.56" fill="#4BACC6"/>
<rect x="93.48" y="297.08" width="2.90" height="157.16" fill="#9BBB59"/>
<rect x="96.34" y="454.24" width="2.90" height="2.56" fill="#4BACC6"/>
<rect x="96.34" y="297.08" width="2.90" height="157.16" fill="#9BBB59"/>
<rect x="99.19" y="454.08" width="2.90" height="2.72" fill="#4BACC6"/>
<rect x="99.19" y="297.08" width="2.90" height="157.00" fill="#9BBB59"/>
<rect x="102.04" y="453.92" width="2.90" height="2.88" fill="#4BACC6"/>
<rect x="102.04" y="304.45" width="2.90" height="149.47" fill="#9BBB59"/>
<rect x="104.89" y="451.03" width="2.90" height="5.77" fill="#4BACC6"/>
<rect x="104.89" y="445.11" width="2.90" height="5.93" fill="#C0504D"/>
<rect x="104.89" y="297.08" width="2.90" height="148.02" fill="#9BBB59"/>
<rect x="107.74" y="453.60" width="2.90" height="3.20" fill="#4BACC6"/>
<rect x="107.74" y="304.45" width="2.90" height="149.15" fill="#9BBB59"/>
<rect x="110.60" y="445.11" width="2.90" height="11.69" fill="#4BACC6"/>
<rect x="110.60" y="297.08" width="2.90" height="148.02" fill="#9BBB59"/>
<rect x="113.45" y="445.11" width="2.90" height="11.69" fill="#4BACC6"/>
<rect x="113.45" y="297.08" width="2.90" height="148.02" fill="#9BBB59"/>
<rect x="116.30" y="454.72" width="2.90" height="2.08" fill="#4BACC6"/>
<rect x="116.30" y="309.26" width="2.90" height="145.46" fill="#9BBB59"/>
<rect x="119.15" y="442.06" width="2.90" height="14.74" fill="#4BACC6"/>
<rect x="119.15" y="441.26" width="2.90" height="0.80" fill="#C0504D"/>
<rect x="119.15" y="297.08" width="2.90" height="144.18" fill="#9BBB59"/>
<rect x="122.00" y="442.06" width="2.90" height="14.74" fill="#4BACC6"/>
<rect x="122.00" y="441.26" width="2.90" height="0.80" fill="#C0504D"/>
<rect x="122.00" y="297.08" width="2.90" height="144.18" fill="#9BBB59"/>
<rect x="124.86" y="442.06" width="2.90" height="14.74" fill="#4BACC6"/>
<rect x="124.86" y="441.26" width="2.90" height="0.80" fill="#C0504D"/>
<rect x="124.86" y="297.08" width="2.90" height="144.18" fill="#9BBB59"/>
<rect x="127.71" y="435.65" width="2.90" height="21.15" fill="#4BACC6"/>
<rect x="127.71" y="297.08" width="2.90" height="138.57" fill="#9BBB59"/>
<rect x="130.56" y="433.25" width="2.90" height="23.55" fill="#4BACC6"/>
<rect x="130.56" y="297.08" width="2.90" height="136.17" fill="#9BBB59"/>
<rect x="133.41" y="430.85" width="2.90" height="25.95" fill="#4BACC6"/>
<rect x="133.41" y="299.00" width="2.90" height="131.84" fill="#9BBB59"/>
<rect x="136.26" y="427.96" width="2.90" height="28.84" fill="#4BACC6"/>
<rect x="136.26" y="297.08" width="2.90" height="130.88" fill="#9BBB59"/>
<rect x="139.12" y="426.04" width="2.90" height="30.76" fill="#4BACC6"/>
<rect x="139.12" y="297.08" width="2.90" height="128.96" fill="#9BBB59"/>
<rect x="141.97" y="426.04" width="2.90" height="30.76" fill="#4BACC6"/>
<rect x="141.97" y="297.08" width="2.90" height="128.96" fill="#9BBB59"/>
<rect x="144.82" y="424.76" width="2.90" height="32.04" fill="#4BACC6"/>
<rect x="144.82" y="297.08" width="2.90" height="127.68" fill="#9BBB59"/>
<rect x="147.67" y="424.76" width="2.90" height="32.04" fill="#4BACC6"/>
<rect x="147.67" y="297.08" width="2.90" height="127.68" fill="#9BBB59"/>
<rect x="150.52" y="424.76" width="2.90" height="32.04" fill="#4BACC6"/>
<rect x="150.52" y="297.08" width="2.90" height="127.68" fill="#9BBB59"/>
<rect x="153.38" y="424.76" width="2.90" height="32.04" fill="#4BACC6"/>
<rect x="153.38" y="297.08" width="2.90" height="127.68" fill="#9BBB59"/>
<rect x="156.23" y="424.76" width="2.90" height="32.04" fill="#4BACC6"/>
<rect x="156.23" y="297.08" width="2.90" height="127.68" fill="#9BBB59"/>
<rect x="159.08" y="424.76" width="2.90" height="32.04" fill="#4BACC6"/>
<rect x="159.08" y="297.08" width="2.90" height="127.68" fill="#9BBB59"/>
<rect x="161.93" y="425.24" width="2.90" height="31.56" fill="#4BACC6"/>
<rect x="161.93" y="299.00" width="2.90" height="126.24" fill="#9BBB59"/>
<rect x="164.78" y="443.98" width="2.90" height="12.82" fill="#4BACC6"/>
<rect x="164.78" y="434.37" width="2.90" height="9.61" fill="#C0504D"/>
<rect x="164.78" y="315.18" width="2.90" height="119.19" fill="#9BBB59"/>
<rect x="167.64" y="427.96" width="2.90" height="28.84" fill="#4BACC6"/>
<rect x="167.64" y="426.36" width="2.90" height="1.60" fill="#C0504D"/>
<rect x="167.64" y="306.85" width="2.90" height="119.51" fill="#9BBB59"/>
<rect x="170.49" y="427.96" width="2.90" height="28.84" fill="#4BACC6"/>
<rect x="170.49" y="426.36" width="2.90" height="1.60" fill="#C0504D"/>
<rect x="170.49" y="307.97" width="2.90" height="118.39" fill="#9BBB59"/>
<rect x="173.34" y="443.98" width="2.90" height="12.82" fill="#4BACC6"/>
<rect x="173.34" y="431.97" width="2.90" height="12.02" fill="#C0504D"/>
<rect x="173.34" y="317.59" width="2.90" height="114.38" fill="#9BBB59"/>
<rect x="176.19" y="423.64" width="2.90" height="33.16" fill="#4BACC6"/>
<rect x="176.19" y="417.71" width="2.90" height="5.93" fill="#C0504D"/>
<rect x="176.19" y="306.85" width="2.90" height="110.86" fill="#9BBB59"/>
<rect x="179.04" y="423.64" width="2.90" height="33.16" fill="#4BACC6"/>
<rect x="179.04" y="417.71" width="2.90" height="5.93" fill="#C0504D"/>
<rect x="179.04" y="307.97" width="2.90" height="109.74" fill="#9BBB59"/>
<rect x="181.90" y="445.11" width="2.90" height="11.69" fill="#4BACC6"/>
<rect x="181.90" y="436.78" width="2.90" height="8.33" fill="#C0504D"/>
<rect x="181.90" y="331.84" width="2.90" height="104.93" fill="#9BBB59"/>
<rect x="184.75" y="442.70" width="2.90" height="14.10" fill="#4BACC6"/>
<rect x="184.75" y="434.37" width="2.90" height="8.33" fill="#C0504D"/>
<rect x="184.75" y="336.65" width="2.90" height="97.72" fill="#9BBB59"/>
<rect x="187.60" y="441.58" width="2.90" height="15.22" fill="#4BACC6"/>
<rect x="187.60" y="429.57" width="2.90" height="12.01" fill="#C0504D"/>
<rect x="187.60" y="330.72" width="2.90" height="98.84" fill="#9BBB59"/>
<rect x="190.45" y="442.70" width="2.90" height="14.10" fill="#4BACC6"/>
<rect x="190.45" y="433.25" width="2.90" height="9.45" fill="#C0504D"/>
<rect x="190.45" y="336.65" width="2.90" height="96.60" fill="#9BBB59"/>
<rect x="193.30" y="440.30" width="2.90" height="16.50" fill="#4BACC6"/>
<rect x="193.30" y="428.44" width="2.90" height="11.85" fill="#C0504D"/>
<rect x="193.30" y="344.98" width="2.90" height="83.46" fill="#9BBB59"/>
<rect x="196.16" y="434.37" width="2.90" height="22.43" fill="#4BACC6"/>
<rect x="196.16" y="424.76" width="2.90" height="9.61" fill="#C0504D"/>
<rect x="196.16" y="342.58" width="2.90" height="82.18" fill="#9BBB59"/>
<rect x="199.01" y="431.97" width="2.90" height="24.83" fill="#4BACC6"/>
<rect x="199.01" y="424.76" width="2.90" height="7.21" fill="#C0504D"/>
<rect x="199.01" y="342.58" width="2.90" height="82.18" fill="#9BBB59"/>
<rect x="201.86" y="401.05" width="2.90" height="55.75" fill="#4F81BD"/>
<rect x="201.86" y="381.99" width="2.90" height="19.06" fill="#4BACC6"/>
<rect x="201.86" y="378.30" width="2.90" height="3.68" fill="#C0504D"/>
<rect x="201.86" y="299.80" width="2.90" height="78.50" fill="#9BBB59"/>
<rect x="204.71" y="446.39" width="2.90" height="10.41" fill="#4BACC6"/>
<rect x="204.71" y="437.90" width="2.90" height="8.49" fill="#C0504D"/>
<rect x="204.71" y="362.92" width="2.90" height="74.97" fill="#9BBB59"/>
<rect x="207.56" y="453.60" width="2.90" height="3.20" fill="#F79646"/>
<rect x="207.56" y="422.52" width="2.90" height="31.08" fill="#4BACC6"/>
<rect x="207.56" y="404.57" width="2.90" height="17.94" fill="#C0504D"/>
<rect x="207.56" y="341.46" width="2.90" height="63.12" fill="#9BBB59"/>
<rect x="210.42" y="441.58" width="2.90" height="15.22" fill="#4BACC6"/>
<rect x="210.42" y="428.44" width="2.90" height="13.14" fill="#C0504D"/>
<rect x="210.42" y="380.71" width="2.90" height="47.74" fill="#9BBB59"/>
<rect x="213.27" y="452.31" width="2.90" height="4.49" fill="#4BACC6"/>
<rect x="213.27" y="396.24" width="2.90" height="56.07" fill="#9BBB59"/>
<rect x="216.12" y="451.03" width="2.90" height="5.77" fill="#4BACC6"/>
<rect x="216.12" y="409.38" width="2.90" height="41.65" fill="#9BBB59"/>
<rect x="218.97" y="451.03" width="2.90" height="5.77" fill="#4BACC6"/>
<rect x="218.97" y="410.50" width="2.90" height="40.53" fill="#9BBB59"/>
<rect x="221.82" y="439.18" width="2.90" height="17.62" fill="#4BACC6"/>
<rect x="221.82" y="426.04" width="2.90" height="13.14" fill="#C0504D"/>
<rect x="221.82" y="385.51" width="2.90" height="40.53" fill="#9BBB59"/>
<rect x="224.68" y="448.79" width="2.90" height="8.01" fill="#4BACC6"/>
<rect x="224.68" y="410.50" width="2.90" height="38.29" fill="#9BBB59"/>
<rect x="227.53" y="443.98" width="2.90" height="12.82" fill="#4BACC6"/>
<rect x="227.53" y="430.85" width="2.90" height="13.14" fill="#C0504D"/>
<rect x="227.53" y="393.84" width="2.90" height="37.01" fill="#9BBB59"/>
<rect x="230.38" y="450.39" width="2.90" height="6.41" fill="#4BACC6"/>
<rect x="230.38" y="415.31" width="2.90" height="35.08" fill="#9BBB59"/>
<rect x="233.23" y="451.19" width="2.90" height="5.61" fill="#4BACC6"/>
<rect x="233.23" y="416.59" width="2.90" height="34.60" fill="#9BBB59"/>
<rect x="236.08" y="451.19" width="2.90" height="5.61" fill="#4BACC6"/>
<rect x="236.08" y="418.83" width="2.90" height="32.36" fill="#9BBB59"/>
<rect x="238.94" y="451.99" width="2.90" height="4.81" fill="#4BACC6"/>
<rect x="238.94" y="416.59" width="2.90" height="35.40" fill="#9BBB59"/>
<rect x="241.79" y="451.99" width="2.90" height="4.81" fill="#4BACC6"/>
<rect x="241.79" y="421.24" width="2.90" height="30.76" fill="#9BBB59"/>
<rect x="244.64" y="451.99" width="2.90" height="4.81" fill="#4BACC6"/>
<rect x="244.64" y="421.24" width="2.90" height="30.76" fill="#9BBB59"/>
<rect x="247.49" y="451.03" width="2.90" height="5.77" fill="#F79646"/>
<rect x="247.49" y="441.58" width="2.90" height="9.45" fill="#4BACC6"/>
<rect x="247.49" y="434.37" width="2.90" height="7.21" fill="#C0504D"/>
<rect x="247.49" y="401.05" width="2.90" height="33.32" fill="#9BBB59"/>
<rect x="250.34" y="449.91" width="2.90" height="6.89" fill="#F79646"/>
<rect x="250.34" y="442.70" width="2.90" height="7.21" fill="#4BACC6"/>
<rect x="250.34" y="412.91" width="2.90" height="29.80" fill="#9BBB59"/>
<rect x="253.20" y="454.88" width="2.90" height="1.92" fill="#F79646"/>
<rect x="253.20" y="442.70" width="2.90" height="12.18" fill="#4BACC6"/>
<rect x="253.20" y="426.04" width="2.90" height="16.66" fill="#C0504D"/>
<rect x="253.20" y="399.77" width="2.90" height="26.27" fill="#9BBB59"/>
<rect x="256.05" y="446.39" width="2.90" height="10.41" fill="#4BACC6"/>
<rect x="256.05" y="420.11" width="2.90" height="26.27" fill="#9BBB59"/>
<rect x="258.90" y="451.99" width="2.90" height="4.81" fill="#4F81BD"/>
<rect x="258.90" y="301.41" width="2.90" height="150.59" fill="#C0504D"/>
<rect x="258.90" y="296.60" width="2.90" height="4.81" fill="#F79646"/>
<rect x="261.75" y="320.63" width="2.90" height="36.85" fill="#4BACC6"/>
<rect x="264.60" y="394.00" width="2.90" height="62.80" fill="#F79646"/>
<rect x="264.60" y="389.84" width="2.90" height="4.17" fill="#4BACC6"/>
<rect x="264.60" y="377.82" width="2.90" height="12.01" fill="#9BBB59"/>
<rect x="267.46" y="308.94" width="2.90" height="147.86" fill="#F79646"/>
<rect x="267.46" y="301.73" width="2.90" height="7.21" fill="#4BACC6"/>
<rect x="270.31" y="309.42" width="2.90" height="147.38" fill="#F79646"/>
<rect x="270.31" y="306.53" width="2.90" height="2.88" fill="#4BACC6"/>
<rect x="273.16" y="323.35" width="2.90" height="133.45" fill="#F79646"/>
<rect x="273.16" y="314.86" width="2.90" height="8.49" fill="#4F81BD"/>
<rect x="273.16" y="312.62" width="2.90" height="2.24" fill="#4BACC6"/>
<rect x="273.16" y="310.22" width="2.90" height="2.40" fill="#C0504D"/>
<rect x="276.01" y="425.72" width="2.90" height="31.08" fill="#F79646"/>
<rect x="276.01" y="328.16" width="2.90" height="97.56" fill="#4F81BD"/>
<rect x="276.01" y="308.94" width="2.90" height="19.22" fill="#4BACC6"/>
<rect x="276.01" y="298.20" width="2.90" height="10.73" fill="#9BBB59"/>
<rect x="278.86" y="372.53" width="2.90" height="84.27" fill="#F79646"/>
<rect x="278.86" y="328.16" width="2.90" height="44.38" fill="#4F81BD"/>
<rect x="278.86" y="302.21" width="2.90" height="25.95" fill="#4BACC6"/>
<rect x="278.86" y="301.09" width="2.90" height="1.12" fill="#C0504D"/>
<rect x="281.72" y="328.16" width="2.90" height="128.64" fill="#F79646"/>
<rect x="281.72" y="307.81" width="2.90" height="20.35" fill="#4BACC6"/>
<rect x="284.57" y="365.33" width="2.90" height="91.47" fill="#F79646"/>
<rect x="284.57" y="331.84" width="2.90" height="33.48" fill="#4F81BD"/>
<rect x="284.57" y="328.16" width="2.90" height="3.68" fill="#C0504D"/>
<rect x="284.57" y="316.14" width="2.90" height="12.01" fill="#9BBB59"/>
<rect x="287.42" y="344.98" width="2.90" height="111.82" fill="#F79646"/>
<rect x="287.42" y="326.88" width="2.90" height="18.10" fill="#4BACC6"/>
<rect x="287.42" y="322.07" width="2.90" height="4.81" fill="#C0504D"/>
<rect x="290.27" y="381.35" width="2.90" height="75.45" fill="#F79646"/>
<rect x="290.27" y="355.71" width="2.90" height="25.63" fill="#4BACC6"/>
<rect x="290.27" y="350.91" width="2.90" height="4.81" fill="#C0504D"/>
<rect x="290.27" y="341.30" width="2.90" height="9.61" fill="#9BBB59"/>
<rect x="293.12" y="372.53" width="2.90" height="84.27" fill="#F79646"/>
<rect x="293.12" y="346.26" width="2.90" height="26.27" fill="#4BACC6"/>
<rect x="293.12" y="344.98" width="2.90" height="1.28" fill="#C0504D"/>
<rect x="293.12" y="340.01" width="2.90" height="4.97" fill="#9BBB59"/>
<rect x="295.98" y="349.79" width="2.90" height="107.01" fill="#F79646"/>
<rect x="295.98" y="345.46" width="2.90" height="4.33" fill="#4BACC6"/>
<rect x="295.98" y="343.70" width="2.90" height="1.76" fill="#C0504D"/>
<rect x="295.98" y="331.68" width="2.90" height="12.01" fill="#9BBB59"/>
<rect x="298.83" y="344.66" width="2.90" height="112.14" fill="#F79646"/>
<rect x="298.83" y="311.34" width="2.90" height="33.32" fill="#4BACC6"/>
<rect x="301.68" y="344.66" width="2.90" height="112.14" fill="#F79646"/>
<rect x="301.68" y="297.56" width="2.90" height="47.10" fill="#4BACC6"/>
<rect x="304.53" y="407.14" width="2.90" height="49.66" fill="#F79646"/>
<rect x="304.53" y="370.29" width="2.90" height="36.85" fill="#4F81BD"/>
<rect x="304.53" y="320.95" width="2.90" height="49.34" fill="#4BACC6"/>
<rect x="304.53" y="310.06" width="2.90" height="10.89" fill="#C0504D"/>
<rect x="307.38" y="386.79" width="2.90" height="70.01" fill="#F79646"/>
<rect x="307.38" y="355.71" width="2.90" height="31.08" fill="#4BACC6"/>
<rect x="307.38" y="299.96" width="2.90" height="55.75" fill="#C0504D"/>
<rect x="310.24" y="381.51" width="2.90" height="75.29" fill="#F79646"/>
<rect x="310.24" y="370.29" width="2.90" height="11.21" fill="#4BACC6"/>
<rect x="310.24" y="367.73" width="2.90" height="2.56" fill="#4F81BD"/>
<rect x="310.24" y="305.25" width="2.90" height="62.48" fill="#9BBB59"/>
<rect x="313.09" y="388.55" width="2.90" height="68.25" fill="#F79646"/>
<rect x="313.09" y="376.70" width="2.90" height="11.85" fill="#4F81BD"/>
<rect x="313.09" y="342.42" width="2.90" height="34.28" fill="#4BACC6"/>
<rect x="313.09" y="338.89" width="2.90" height="3.52" fill="#C0504D"/>
<rect x="313.09" y="304.13" width="2.90" height="34.76" fill="#9BBB59"/>
<rect x="315.94" y="354.43" width="2.90" height="102.37" fill="#F79646"/>
<rect x="315.94" y="334.09" width="2.90" height="20.35" fill="#4BACC6"/>
<rect x="315.94" y="329.28" width="2.90" height="4.81" fill="#C0504D"/>
<rect x="318.79" y="431.81" width="2.90" height="24.99" fill="#F79646"/>
<rect x="318.79" y="411.30" width="2.90" height="20.51" fill="#4BACC6"/>
<rect x="318.79" y="399.29" width="2.90" height="12.01" fill="#C0504D"/>
<rect x="318.79" y="324.47" width="2.90" height="74.81" fill="#9BBB59"/>
<rect x="321.64" y="449.11" width="2.90" height="7.69" fill="#F79646"/>
<rect x="321.64" y="429.41" width="2.90" height="19.70" fill="#4BACC6"/>
<rect x="321.64" y="413.71" width="2.90" height="15.70" fill="#C0504D"/>
<rect x="321.64" y="327.04" width="2.90" height="86.67" fill="#9BBB59"/>
<rect x="324.50" y="346.26" width="2.90" height="110.54" fill="#F79646"/>
<rect x="324.50" y="337.77" width="2.90" height="8.49" fill="#4F81BD"/>
<rect x="324.50" y="311.02" width="2.90" height="26.75" fill="#4BACC6"/>
<rect x="324.50" y="309.42" width="2.90" height="1.60" fill="#C0504D"/>
<rect x="327.35" y="367.73" width="2.90" height="89.07" fill="#F79646"/>
<rect x="327.35" y="349.63" width="2.90" height="18.10" fill="#4F81BD"/>
<rect x="327.35" y="308.94" width="2.90" height="40.69" fill="#4BACC6"/>
<rect x="327.35" y="298.20" width="2.90" height="10.73" fill="#C0504D"/>
<rect x="330.20" y="328.16" width="2.90" height="128.64" fill="#F79646"/>
<rect x="330.20" y="304.61" width="2.90" height="23.55" fill="#4BACC6"/>
<rect x="330.20" y="302.21" width="2.90" height="2.40" fill="#9BBB59"/>
<rect x="333.05" y="323.35" width="2.90" height="133.45" fill="#F79646"/>
<rect x="333.05" y="316.14" width="2.90" height="7.21" fill="#4F81BD"/>
<rect x="333.05" y="310.06" width="2.90" height="6.09" fill="#4BACC6"/>
<rect x="333.05" y="303.01" width="2.90" height="7.05" fill="#C0504D"/>
<rect x="335.90" y="343.70" width="2.90" height="113.10" fill="#F79646"/>
<rect x="335.90" y="339.85" width="2.90" height="3.84" fill="#4BACC6"/>
<rect x="335.90" y="338.89" width="2.90" height="0.96" fill="#C0504D"/>
<rect x="335.90" y="334.09" width="2.90" height="4.81" fill="#9BBB59"/>
<rect x="338.76" y="349.63" width="2.90" height="107.17" fill="#F79646"/>
<rect x="338.76" y="312.62" width="2.90" height="37.01" fill="#4BACC6"/>
<rect x="338.76" y="310.06" width="2.90" height="2.56" fill="#C0504D"/>
<rect x="338.76" y="300.61" width="2.90" height="9.45" fill="#9BBB59"/>
<rect x="341.61" y="346.26" width="2.90" height="110.54" fill="#F79646"/>
<rect x="341.61" y="306.53" width="2.90" height="39.73" fill="#4BACC6"/>
<rect x="341.61" y="305.89" width="2.90" height="0.64" fill="#C0504D"/>
<rect x="344.46" y="330.24" width="2.90" height="126.56" fill="#F79646"/>
<rect x="344.46" y="327.04" width="2.90" height="3.20" fill="#4BACC6"/>
<rect x="344.46" y="323.83" width="2.90" height="3.20" fill="#C0504D"/>
<rect x="347.31" y="336.49" width="2.90" height="120.31" fill="#F79646"/>
<rect x="347.31" y="326.24" width="2.90" height="10.25" fill="#4BACC6"/>
<rect x="347.31" y="324.47" width="2.90" height="1.76" fill="#C0504D"/>
<rect x="347.31" y="308.94" width="2.90" height="15.54" fill="#9BBB59"/>
<rect x="350.16" y="344.98" width="2.90" height="111.82" fill="#F79646"/>
<rect x="350.16" y="298.20" width="2.90" height="46.78" fill="#4BACC6"/>
<rect x="353.02" y="352.03" width="2.90" height="104.77" fill="#F79646"/>
<rect x="353.02" y="337.77" width="2.90" height="14.26" fill="#4F81BD"/>
<rect x="353.02" y="302.37" width="2.90" height="35.40" fill="#4BACC6"/>
<rect x="353.02" y="301.09" width="2.90" height="1.28" fill="#C0504D"/>
<rect x="353.02" y="297.56" width="2.90" height="3.52" fill="#9BBB59"/>
<rect x="355.87" y="320.31" width="2.90" height="136.49" fill="#F79646"/>
<rect x="355.87" y="307.81" width="2.90" height="12.50" fill="#4F81BD"/>
<rect x="355.87" y="305.89" width="2.90" height="1.92" fill="#C0504D"/>
<rect x="358.72" y="356.84" width="2.90" height="99.96" fill="#F79646"/>
<rect x="358.72" y="332.97" width="2.90" height="23.87" fill="#4F81BD"/>
<rect x="358.72" y="298.68" width="2.90" height="34.28" fill="#4BACC6"/>
<rect x="361.57" y="367.73" width="2.90" height="89.07" fill="#F79646"/>
<rect x="361.57" y="364.04" width="2.90" height="3.68" fill="#4BACC6"/>
<rect x="361.57" y="353.31" width="2.90" height="10.73" fill="#9BBB59"/>
<rect x="364.42" y="370.13" width="2.90" height="86.67" fill="#F79646"/>
<rect x="364.42" y="348.50" width="2.90" height="21.63" fill="#4BACC6"/>
<rect x="364.42" y="347.22" width="2.90" height="1.28" fill="#C0504D"/>
<rect x="364.42" y="340.17" width="2.90" height="7.05" fill="#9BBB59"/>
<rect x="367.28" y="328.16" width="2.90" height="128.64" fill="#F79646"/>
<rect x="367.28" y="300.44" width="2.90" height="27.71" fill="#4F81BD"/>
<rect x="370.13" y="343.70" width="2.90" height="113.10" fill="#F79646"/>
<rect x="370.13" y="335.37" width="2.90" height="8.33" fill="#4F81BD"/>
<rect x="370.13" y="311.34" width="2.90" height="24.03" fill="#4BACC6"/>
<rect x="370.13" y="301.73" width="2.90" height="9.61" fill="#9BBB59"/>
<rect x="372.98" y="343.06" width="2.90" height="113.74" fill="#F79646"/>
<rect x="372.98" y="322.71" width="2.90" height="20.35" fill="#4BACC6"/>
<rect x="372.98" y="320.95" width="2.90" height="1.76" fill="#C0504D"/>
<rect x="372.98" y="300.61" width="2.90" height="20.35" fill="#9BBB59"/>
<rect x="375.83" y="368.85" width="2.90" height="87.95" fill="#F79646"/>
<rect x="375.83" y="344.98" width="2.90" height="23.87" fill="#4BACC6"/>
<rect x="375.83" y="342.42" width="2.90" height="2.56" fill="#C0504D"/>
<rect x="375.83" y="328.16" width="2.90" height="14.26" fill="#9BBB59"/>
<rect x="378.68" y="314.86" width="2.90" height="141.94" fill="#F79646"/>
<rect x="378.68" y="313.42" width="2.90" height="1.44" fill="#4F81BD"/>
<rect x="378.68" y="308.94" width="2.90" height="4.49" fill="#4BACC6"/>
<rect x="378.68" y="303.01" width="2.90" height="5.93" fill="#C0504D"/>
<rect x="381.54" y="329.76" width="2.90" height="127.04" fill="#F79646"/>
<rect x="381.54" y="313.74" width="2.90" height="16.02" fill="#4BACC6"/>
<rect x="381.54" y="312.62" width="2.90" height="1.12" fill="#C0504D"/>
<rect x="381.54" y="301.73" width="2.90" height="10.89" fill="#9BBB59"/>
<rect x="384.39" y="367.73" width="2.90" height="89.07" fill="#F79646"/>
<rect x="384.39" y="363.40" width="2.90" height="4.33" fill="#4F81BD"/>
<rect x="384.39" y="353.31" width="2.90" height="10.09" fill="#9BBB59"/>
<rect x="387.24" y="343.70" width="2.90" height="113.10" fill="#F79646"/>
<rect x="387.24" y="320.95" width="2.90" height="22.75" fill="#4F81BD"/>
<rect x="387.24" y="301.09" width="2.90" height="19.86" fill="#4BACC6"/>
<rect x="387.24" y="298.20" width="2.90" height="2.88" fill="#C0504D"/>
<rect x="390.09" y="349.63" width="2.90" height="107.17" fill="#F79646"/>
<rect x="390.09" y="344.82" width="2.90" height="4.81" fill="#4BACC6"/>
<rect x="390.09" y="330.56" width="2.90" height="14.26" fill="#9BBB59"/>
<rect x="392.94" y="333.45" width="2.90" height="123.35" fill="#F79646"/>
<rect x="392.94" y="314.38" width="2.90" height="19.06" fill="#4F81BD"/>
<rect x="392.94" y="306.53" width="2.90" height="7.85" fill="#4BACC6"/>
<rect x="392.94" y="300.61" width="2.90" height="5.93" fill="#9BBB59"/>
<rect x="395.80" y="331.68" width="2.90" height="125.12" fill="#F79646"/>
<rect x="395.80" y="306.53" width="2.90" height="25.15" fill="#4BACC6"/>
<rect x="398.65" y="425.08" width="2.90" height="31.72" fill="#F79646"/>
<rect x="398.65" y="419.79" width="2.90" height="5.29" fill="#4BACC6"/>
<rect x="398.65" y="399.93" width="2.90" height="19.86" fill="#9BBB59"/>
<rect x="401.50" y="306.53" width="2.90" height="150.27" fill="#F79646"/>
<rect x="401.50" y="299.32" width="2.90" height="7.21" fill="#4F81BD"/>
<rect x="404.35" y="344.34" width="2.90" height="112.46" fill="#F79646"/>
<rect x="404.35" y="298.20" width="2.90" height="46.14" fill="#4BACC6"/>
<rect x="407.20" y="343.70" width="2.90" height="113.10" fill="#F79646"/>
<rect x="407.20" y="312.62" width="2.90" height="31.08" fill="#4BACC6"/>
<rect x="407.20" y="301.73" width="2.90" height="10.89" fill="#9BBB59"/>
<rect x="410.06" y="444.95" width="2.90" height="11.85" fill="#F79646"/>
<rect x="410.06" y="435.33" width="2.90" height="9.61" fill="#4F81BD"/>
<rect x="410.06" y="393.36" width="2.90" height="41.97" fill="#4BACC6"/>
<rect x="410.06" y="382.63" width="2.90" height="10.73" fill="#71588F"/>
<rect x="410.06" y="364.04" width="2.90" height="18.58" fill="#C0504D"/>
<rect x="410.06" y="299.32" width="2.90" height="64.72" fill="#9BBB59"/>
<rect x="412.91" y="314.86" width="2.90" height="141.94" fill="#F79646"/>
<rect x="415.76" y="335.37" width="2.90" height="121.43" fill="#F79646"/>
<rect x="415.76" y="308.29" width="2.90" height="27.07" fill="#4F81BD"/>
<rect x="415.76" y="306.53" width="2.90" height="1.76" fill="#C0504D"/>
<rect x="415.76" y="301.73" width="2.90" height="4.81" fill="#9BBB59"/>
<rect x="418.61" y="355.71" width="2.90" height="101.09" fill="#F79646"/>
<rect x="418.61" y="318.55" width="2.90" height="37.17" fill="#4F81BD"/>
<rect x="418.61" y="313.10" width="2.90" height="5.45" fill="#4BACC6"/>
<rect x="418.61" y="311.82" width="2.90" height="1.28" fill="#C0504D"/>
<rect x="421.46" y="331.68" width="2.90" height="125.12" fill="#F79646"/>
<rect x="421.46" y="302.21" width="2.90" height="29.48" fill="#4F81BD"/>
<rect x="421.46" y="301.09" width="2.90" height="1.12" fill="#C0504D"/>
<rect x="424.32" y="343.70" width="2.90" height="113.10" fill="#F79646"/>
<rect x="424.32" y="322.07" width="2.90" height="21.63" fill="#4BACC6"/>
<rect x="424.32" y="310.06" width="2.90" height="12.02" fill="#9BBB59"/>
<rect x="427.17" y="390.32" width="2.90" height="66.48" fill="#F79646"/>
<rect x="427.17" y="388.55" width="2.90" height="1.76" fill="#4F81BD"/>
<rect x="427.17" y="363.40" width="2.90" height="25.15" fill="#4BACC6"/>
<rect x="427.17" y="353.31" width="2.90" height="10.09" fill="#C0504D"/>
<rect x="427.17" y="308.94" width="2.90" height="44.38" fill="#9BBB59"/>
<rect x="430.02" y="310.06" width="2.90" height="146.74" fill="#F79646"/>
<rect x="430.02" y="307.81" width="2.90" height="2.24" fill="#C0504D"/>
<rect x="432.87" y="348.50" width="2.90" height="108.30" fill="#F79646"/>
<rect x="432.87" y="300.61" width="2.90" height="47.90" fill="#4BACC6"/>
<rect x="432.87" y="298.20" width="2.90" height="2.40" fill="#9BBB59"/>
<rect x="435.72" y="343.70" width="2.90" height="113.10" fill="#F79646"/>
<rect x="435.72" y="298.20" width="2.90" height="45.50" fill="#4BACC6"/>
<rect x="438.58" y="341.30" width="2.90" height="115.50" fill="#F79646"/>
<rect x="438.58" y="337.77" width="2.90" height="3.52" fill="#4F81BD"/>
<rect x="438.58" y="308.94" width="2.90" height="28.84" fill="#4BACC6"/>
<rect x="438.58" y="303.01" width="2.90" height="5.93" fill="#9BBB59"/>
<rect x="441.43" y="311.82" width="2.90" height="144.98" fill="#F79646"/>
<rect x="441.43" y="298.20" width="2.90" height="13.62" fill="#4BACC6"/>
<rect x="444.28" y="337.77" width="2.90" height="119.03" fill="#F79646"/>
<rect x="444.28" y="320.95" width="2.90" height="16.82" fill="#4F81BD"/>
<rect x="444.28" y="303.01" width="2.90" height="17.94" fill="#4BACC6"/>
<rect x="447.13" y="322.07" width="2.90" height="134.73" fill="#4F81BD"/>
<rect x="447.13" y="306.53" width="2.90" height="15.54" fill="#4BACC6"/>
<rect x="447.13" y="303.49" width="2.90" height="3.04" fill="#9BBB59"/>
<rect x="449.98" y="329.28" width="2.90" height="127.52" fill="#4F81BD"/>
<rect x="449.98" y="308.29" width="2.90" height="20.99" fill="#4BACC6"/>
<rect x="449.98" y="304.13" width="2.90" height="4.17" fill="#9BBB59"/>
<rect x="452.84" y="332.97" width="2.90" height="123.83" fill="#4F81BD"/>
<rect x="452.84" y="314.86" width="2.90" height="18.10" fill="#4BACC6"/>
<rect x="452.84" y="308.94" width="2.90" height="5.93" fill="#9BBB59"/>
<rect x="455.69" y="337.77" width="2.90" height="119.03" fill="#4F81BD"/>
<rect x="455.69" y="315.50" width="2.90" height="22.27" fill="#4BACC6"/>
<rect x="455.69" y="310.06" width="2.90" height="5.45" fill="#9BBB59"/>
<rect x="458.54" y="341.30" width="2.90" height="115.50" fill="#4F81BD"/>
<rect x="458.54" y="328.64" width="2.90" height="12.66" fill="#4BACC6"/>
<rect x="458.54" y="319.19" width="2.90" height="9.45" fill="#9BBB59"/>
<rect x="461.39" y="347.22" width="2.90" height="109.58" fill="#4F81BD"/>
<rect x="461.39" y="330.24" width="2.90" height="16.98" fill="#4BACC6"/>
<rect x="461.39" y="320.95" width="2.90" height="9.29" fill="#9BBB59"/>
<rect x="464.24" y="410.18" width="2.90" height="46.62" fill="#F79646"/>
<rect x="464.24" y="312.62" width="2.90" height="97.56" fill="#4F81BD"/>
<rect x="464.24" y="303.01" width="2.90" height="9.61" fill="#4BACC6"/>
<rect x="467.10" y="360.52" width="2.90" height="96.28" fill="#4F81BD"/>
<rect x="467.10" y="345.46" width="2.90" height="15.06" fill="#4BACC6"/>
<rect x="467.10" y="342.58" width="2.90" height="2.88" fill="#9BBB59"/>
<rect x="469.95" y="371.25" width="2.90" height="85.55" fill="#4F81BD"/>
<rect x="469.95" y="354.43" width="2.90" height="16.82" fill="#4BACC6"/>
<rect x="469.95" y="350.91" width="2.90" height="3.52" fill="#9BBB59"/>
<rect x="472.80" y="374.94" width="2.90" height="81.86" fill="#4F81BD"/>
<rect x="472.80" y="360.68" width="2.90" height="14.26" fill="#4BACC6"/>
<rect x="472.80" y="358.76" width="2.90" height="1.92" fill="#C0504D"/>
<rect x="472.80" y="352.03" width="2.90" height="6.73" fill="#9BBB59"/>
<rect x="475.65" y="440.14" width="2.90" height="16.66" fill="#F79646"/>
<rect x="475.65" y="376.70" width="2.90" height="63.44" fill="#4F81BD"/>
<rect x="475.65" y="311.34" width="2.90" height="65.36" fill="#4BACC6"/>
<rect x="478.50" y="404.09" width="2.90" height="52.71" fill="#F79646"/>
<rect x="478.50" y="330.40" width="2.90" height="73.69" fill="#4F81BD"/>
<rect x="478.50" y="307.17" width="2.90" height="23.23" fill="#4BACC6"/>
<rect x="478.50" y="305.41" width="2.90" height="1.76" fill="#C0504D"/>
<rect x="481.36" y="381.99" width="2.90" height="74.81" fill="#4F81BD"/>
<rect x="481.36" y="372.53" width="2.90" height="9.45" fill="#9BBB59"/>
<rect x="484.21" y="441.90" width="2.90" height="14.90" fill="#F79646"/>
<rect x="484.21" y="370.13" width="2.90" height="71.77" fill="#4F81BD"/>
<rect x="484.21" y="308.29" width="2.90" height="61.84" fill="#4BACC6"/>
<rect x="484.21" y="304.13" width="2.90" height="4.17" fill="#9BBB59"/>
<rect x="487.06" y="387.43" width="2.90" height="69.37" fill="#4F81BD"/>
<rect x="487.06" y="343.70" width="2.90" height="43.73" fill="#4BACC6"/>
<rect x="487.06" y="336.49" width="2.90" height="7.21" fill="#9BBB59"/>
<rect x="489.91" y="434.69" width="2.90" height="22.11" fill="#F79646"/>
<rect x="489.91" y="367.73" width="2.90" height="66.96" fill="#4F81BD"/>
<rect x="489.91" y="306.53" width="2.90" height="61.20" fill="#4BACC6"/>
<rect x="489.91" y="304.61" width="2.90" height="1.92" fill="#C0504D"/>
<rect x="492.76" y="388.55" width="2.90" height="68.25" fill="#4F81BD"/>
<rect x="492.76" y="372.53" width="2.90" height="16.02" fill="#4BACC6"/>
<rect x="492.76" y="370.13" width="2.90" height="2.40" fill="#C0504D"/>
<rect x="492.76" y="364.04" width="2.90" height="6.09" fill="#9BBB59"/>
<rect x="495.62" y="395.76" width="2.90" height="61.04" fill="#4F81BD"/>
<rect x="495.62" y="374.30" width="2.90" height="21.47" fill="#4BACC6"/>
<rect x="495.62" y="372.53" width="2.90" height="1.76" fill="#C0504D"/>
<rect x="495.62" y="348.50" width="2.90" height="24.03" fill="#9BBB59"/>
<rect x="498.47" y="387.91" width="2.90" height="68.89" fill="#F79646"/>
<rect x="498.47" y="329.28" width="2.90" height="58.63" fill="#4F81BD"/>
<rect x="498.47" y="304.13" width="2.90" height="25.15" fill="#4BACC6"/>
<rect x="498.47" y="299.32" width="2.90" height="4.81" fill="#C0504D"/>
<rect x="501.32" y="416.11" width="2.90" height="40.69" fill="#F79646"/>
<rect x="501.32" y="360.52" width="2.90" height="55.59" fill="#4F81BD"/>
<rect x="501.32" y="310.06" width="2.90" height="50.46" fill="#4BACC6"/>
<rect x="501.32" y="308.94" width="2.90" height="1.12" fill="#C0504D"/>
<rect x="501.32" y="304.61" width="2.90" height="4.33" fill="#9BBB59"/>
<rect x="504.17" y="405.54" width="2.90" height="51.26" fill="#4F81BD"/>
<rect x="504.17" y="378.30" width="2.90" height="27.23" fill="#4BACC6"/>
<rect x="504.17" y="373.66" width="2.90" height="4.65" fill="#9BBB59"/>
<rect x="507.02" y="405.54" width="2.90" height="51.26" fill="#4F81BD"/>
<rect x="507.02" y="394.32" width="2.90" height="11.21" fill="#4BACC6"/>
<rect x="507.02" y="390.32" width="2.90" height="4.00" fill="#C0504D"/>
<rect x="507.02" y="373.66" width="2.90" height="16.66" fill="#9BBB59"/>
<rect x="509.88" y="420.27" width="2.90" height="36.53" fill="#F79646"/>
<rect x="509.88" y="376.70" width="2.90" height="43.57" fill="#4F81BD"/>
<rect x="509.88" y="361.64" width="2.90" height="15.06" fill="#4BACC6"/>
<rect x="509.88" y="358.12" width="2.90" height="3.52" fill="#C0504D"/>
<rect x="512.73" y="412.58" width="2.90" height="44.22" fill="#F79646"/>
<rect x="512.73" y="376.70" width="2.90" height="35.88" fill="#4F81BD"/>
<rect x="512.73" y="319.67" width="2.90" height="57.03" fill="#4BACC6"/>
<rect x="512.73" y="317.91" width="2.90" height="1.76" fill="#C0504D"/>
<rect x="512.73" y="311.34" width="2.90" height="6.57" fill="#9BBB59"/>
<rect x="515.58" y="380.22" width="2.90" height="76.58" fill="#F79646"/>
<rect x="515.58" y="336.49" width="2.90" height="43.73" fill="#4F81BD"/>
<rect x="515.58" y="299.80" width="2.90" height="36.69" fill="#4BACC6"/>
<rect x="515.58" y="298.20" width="2.90" height="1.60" fill="#C0504D"/>
<rect x="518.43" y="420.92" width="2.90" height="35.88" fill="#F79646"/>
<rect x="518.43" y="380.22" width="2.90" height="40.69" fill="#4F81BD"/>
<rect x="518.43" y="373.50" width="2.90" height="6.73" fill="#4BACC6"/>
<rect x="518.43" y="370.13" width="2.90" height="3.36" fill="#C0504D"/>
<rect x="518.43" y="349.63" width="2.90" height="20.51" fill="#9BBB59"/>
<rect x="521.28" y="380.22" width="2.90" height="76.58" fill="#F79646"/>
<rect x="521.28" y="350.91" width="2.90" height="29.32" fill="#4F81BD"/>
<rect x="521.28" y="303.01" width="2.90" height="47.90" fill="#4BACC6"/>
<rect x="521.28" y="298.20" width="2.90" height="4.81" fill="#C0504D"/>
<rect x="524.14" y="358.12" width="2.90" height="98.68" fill="#F79646"/>
<rect x="524.14" y="337.77" width="2.90" height="20.35" fill="#4F81BD"/>
<rect x="524.14" y="302.21" width="2.90" height="35.56" fill="#4BACC6"/>
<rect x="524.14" y="298.20" width="2.90" height="4.00" fill="#C0504D"/>
<rect x="526.99" y="453.28" width="2.90" height="3.52" fill="#4F81BD"/>
<rect x="526.99" y="441.26" width="2.90" height="12.01" fill="#4BACC6"/>
<rect x="526.99" y="411.30" width="2.90" height="29.96" fill="#9BBB59"/>
<rect x="529.84" y="440.14" width="2.90" height="16.66" fill="#4BACC6"/>
<rect x="529.84" y="425.72" width="2.90" height="14.42" fill="#C0504D"/>
<rect x="529.84" y="394.64" width="2.90" height="31.08" fill="#9BBB59"/>
<rect x="532.69" y="424.60" width="2.90" height="32.20" fill="#4BACC6"/>
<rect x="532.69" y="418.51" width="2.90" height="6.09" fill="#C0504D"/>
<rect x="532.69" y="301.09" width="2.90" height="117.43" fill="#9BBB59"/>
<rect x="535.54" y="402.97" width="2.90" height="53.83" fill="#F79646"/>
<rect x="535.54" y="392.24" width="2.90" height="10.73" fill="#4BACC6"/>
<rect x="535.54" y="382.63" width="2.90" height="9.61" fill="#C0504D"/>
<rect x="535.54" y="359.24" width="2.90" height="23.39" fill="#9BBB59"/>
<rect x="538.40" y="435.33" width="2.90" height="21.47" fill="#4BACC6"/>
<rect x="538.40" y="422.20" width="2.90" height="13.14" fill="#C0504D"/>
<rect x="538.40" y="322.07" width="2.90" height="100.12" fill="#9BBB59"/>
<rect x="541.25" y="438.86" width="2.90" height="17.94" fill="#4BACC6"/>
<rect x="541.25" y="431.81" width="2.90" height="7.05" fill="#C0504D"/>
<rect x="541.25" y="384.71" width="2.90" height="47.10" fill="#9BBB59"/>
<rect x="544.10" y="416.11" width="2.90" height="40.69" fill="#9BBB59"/>
<rect x="546.95" y="424.60" width="2.90" height="32.20" fill="#4BACC6"/>
<rect x="546.95" y="299.96" width="2.90" height="124.64" fill="#9BBB59"/>
<rect x="549.80" y="415.15" width="2.90" height="41.65" fill="#4BACC6"/>
<rect x="552.66" y="447.19" width="2.90" height="9.61" fill="#F79646"/>
<rect x="552.66" y="443.18" width="2.90" height="4.00" fill="#71588F"/>
<rect x="552.66" y="297.56" width="2.90" height="145.62" fill="#C0504D"/>
<rect x="555.51" y="446.39" width="2.90" height="10.41" fill="#F79646"/>
<rect x="555.51" y="442.38" width="2.90" height="4.00" fill="#71588F"/>
<rect x="555.51" y="297.56" width="2.90" height="144.82" fill="#C0504D"/>
<rect x="558.36" y="445.59" width="2.90" height="11.21" fill="#F79646"/>
<rect x="558.36" y="441.58" width="2.90" height="4.00" fill="#4F81BD"/>
<rect x="558.36" y="297.56" width="2.90" height="144.02" fill="#C0504D"/>
<rect x="561.21" y="443.18" width="2.90" height="13.62" fill="#F79646"/>
<rect x="561.21" y="440.78" width="2.90" height="2.40" fill="#4BACC6"/>
<rect x="561.21" y="439.18" width="2.90" height="1.60" fill="#4F81BD"/>
<rect x="561.21" y="297.56" width="2.90" height="141.62" fill="#C0504D"/>
<rect x="564.06" y="442.38" width="2.90" height="14.42" fill="#F79646"/>
<rect x="564.06" y="439.18" width="2.90" height="3.20" fill="#4BACC6"/>
<rect x="564.06" y="297.56" width="2.90" height="141.62" fill="#C0504D"/>
<rect x="566.92" y="443.18" width="2.90" height="13.62" fill="#F79646"/>
<rect x="566.92" y="437.58" width="2.90" height="5.61" fill="#4BACC6"/>
<rect x="566.92" y="304.61" width="2.90" height="132.97" fill="#C0504D"/>
<rect x="566.92" y="297.56" width="2.90" height="7.05" fill="#F79646"/>
<rect x="569.77" y="440.78" width="2.90" height="16.02" fill="#F79646"/>
<rect x="569.77" y="436.78" width="2.90" height="4.00" fill="#4BACC6"/>
<rect x="569.77" y="297.56" width="2.90" height="139.21" fill="#C0504D"/>
<rect x="572.62" y="443.66" width="2.90" height="13.14" fill="#F79646"/>
<rect x="572.62" y="439.98" width="2.90" height="3.68" fill="#4F81BD"/>
<rect x="572.62" y="303.01" width="2.90" height="136.97" fill="#C0504D"/>
<rect x="572.62" y="297.56" width="2.90" height="5.45" fill="#F79646"/>
<rect x="575.47" y="447.35" width="2.90" height="9.45" fill="#F79646"/>
<rect x="575.47" y="442.38" width="2.90" height="4.97" fill="#4F81BD"/>
<rect x="575.47" y="314.86" width="2.90" height="127.52" fill="#C0504D"/>
<rect x="575.47" y="298.20" width="2.90" height="16.66" fill="#F79646"/>
<rect x="578.32" y="449.75" width="2.90" height="7.05" fill="#F79646"/>
<rect x="578.32" y="440.78" width="2.90" height="8.97" fill="#4F81BD"/>
<rect x="578.32" y="427.00" width="2.90" height="13.78" fill="#4BACC6"/>
<rect x="578.32" y="298.20" width="2.90" height="128.80" fill="#C0504D"/>
<rect x="581.18" y="440.14" width="2.90" height="16.66" fill="#F79646"/>
<rect x="581.18" y="427.96" width="2.90" height="12.18" fill="#4F81BD"/>
<rect x="581.18" y="410.18" width="2.90" height="17.78" fill="#4BACC6"/>
<rect x="581.18" y="303.01" width="2.90" height="107.17" fill="#C0504D"/>
<rect x="581.18" y="298.20" width="2.90" height="4.81" fill="#F79646"/>
<rect x="584.03" y="432.93" width="2.90" height="23.87" fill="#F79646"/>
<rect x="584.03" y="422.20" width="2.90" height="10.73" fill="#4BACC6"/>
<rect x="584.03" y="315.50" width="2.90" height="106.69" fill="#C0504D"/>
<rect x="584.03" y="300.61" width="2.90" height="14.90" fill="#F79646"/>
<rect x="586.88" y="419.79" width="2.90" height="37.01" fill="#F79646"/>
<rect x="586.88" y="405.38" width="2.90" height="14.42" fill="#4BACC6"/>
<rect x="586.88" y="299.32" width="2.90" height="106.05" fill="#C0504D"/>
<rect x="589.73" y="446.07" width="2.90" height="10.73" fill="#F79646"/>
<rect x="589.73" y="419.79" width="2.90" height="26.27" fill="#4F81BD"/>
<rect x="589.73" y="398.17" width="2.90" height="21.63" fill="#4BACC6"/>
<rect x="589.73" y="298.20" width="2.90" height="99.96" fill="#C0504D"/>
<rect x="592.58" y="413.71" width="2.90" height="43.09" fill="#F79646"/>
<rect x="592.58" y="407.78" width="2.90" height="5.93" fill="#4F81BD"/>
<rect x="592.58" y="314.86" width="2.90" height="92.92" fill="#C0504D"/>
<rect x="595.44" y="450.87" width="2.90" height="5.93" fill="#F79646"/>
<rect x="595.44" y="414.99" width="2.90" height="35.88" fill="#4F81BD"/>
<rect x="595.44" y="382.63" width="2.90" height="32.36" fill="#4BACC6"/>
<rect x="595.44" y="298.68" width="2.90" height="83.94" fill="#C0504D"/>
<rect x="598.29" y="411.30" width="2.90" height="45.50" fill="#F79646"/>
<rect x="598.29" y="406.50" width="2.90" height="4.81" fill="#4F81BD"/>
<rect x="598.29" y="335.85" width="2.90" height="70.65" fill="#C0504D"/>
<rect x="598.29" y="313.10" width="2.90" height="22.75" fill="#9BBB59"/>
<rect x="601.14" y="412.58" width="2.90" height="44.22" fill="#F79646"/>
<rect x="601.14" y="388.55" width="2.90" height="24.03" fill="#4BACC6"/>
<rect x="601.14" y="320.95" width="2.90" height="67.60" fill="#C0504D"/>
<rect x="601.14" y="313.10" width="2.90" height="7.85" fill="#9BBB59"/>
<rect x="603.99" y="412.58" width="2.90" height="44.22" fill="#F79646"/>
<rect x="603.99" y="396.89" width="2.90" height="15.70" fill="#4BACC6"/>
<rect x="603.99" y="332.81" width="2.90" height="64.08" fill="#C0504D"/>
<rect x="603.99" y="313.10" width="2.90" height="19.70" fill="#9BBB59"/>
<rect x="606.84" y="380.22" width="2.90" height="76.58" fill="#F79646"/>
<rect x="606.84" y="371.89" width="2.90" height="8.33" fill="#4BACC6"/>
<rect x="606.84" y="370.13" width="2.90" height="1.76" fill="#4F81BD"/>
<rect x="606.84" y="313.74" width="2.90" height="56.39" fill="#C0504D"/>
<rect x="609.70" y="386.15" width="2.90" height="70.65" fill="#F79646"/>
<rect x="609.70" y="373.50" width="2.90" height="12.66" fill="#4BACC6"/>
<rect x="609.70" y="316.14" width="2.90" height="57.35" fill="#C0504D"/>
<rect x="609.70" y="313.10" width="2.90" height="3.04" fill="#9BBB59"/>
<rect x="612.55" y="447.35" width="2.90" height="9.45" fill="#F79646"/>
<rect x="612.55" y="414.99" width="2.90" height="32.36" fill="#4F81BD"/>
<rect x="612.55" y="395.76" width="2.90" height="19.22" fill="#4BACC6"/>
<rect x="612.55" y="348.50" width="2.90" height="47.26" fill="#C0504D"/>
<rect x="612.55" y="297.56" width="2.90" height="50.94" fill="#9BBB59"/>
<rect x="615.40" y="399.29" width="2.90" height="57.51" fill="#F79646"/>
<rect x="615.40" y="384.71" width="2.90" height="14.58" fill="#4F81BD"/>
<rect x="615.40" y="367.73" width="2.90" height="16.98" fill="#71588F"/>
<rect x="615.40" y="320.95" width="2.90" height="46.78" fill="#C0504D"/>
<rect x="615.40" y="307.81" width="2.90" height="13.14" fill="#9BBB59"/>
<rect x="618.25" y="451.99" width="2.90" height="4.81" fill="#F79646"/>
<rect x="618.25" y="418.51" width="2.90" height="33.48" fill="#4F81BD"/>
<rect x="618.25" y="408.90" width="2.90" height="9.61" fill="#4BACC6"/>
<rect x="618.25" y="376.70" width="2.90" height="32.20" fill="#71588F"/>
<rect x="618.25" y="334.73" width="2.90" height="41.97" fill="#C0504D"/>
<rect x="618.25" y="308.94" width="2.90" height="25.79" fill="#9BBB59"/>
<rect x="621.10" y="407.78" width="2.90" height="49.02" fill="#F79646"/>
<rect x="621.10" y="376.70" width="2.90" height="31.08" fill="#4F81BD"/>
<rect x="621.10" y="353.31" width="2.90" height="23.39" fill="#4BACC6"/>
<rect x="621.10" y="314.22" width="2.90" height="39.09" fill="#C0504D"/>
<rect x="621.10" y="308.94" width="2.90" height="5.29" fill="#9BBB59"/>
<rect x="623.96" y="367.73" width="2.90" height="89.07" fill="#F79646"/>
<rect x="623.96" y="350.91" width="2.90" height="16.82" fill="#4BACC6"/>
<rect x="623.96" y="314.22" width="2.90" height="36.69" fill="#C0504D"/>
<rect x="623.96" y="311.02" width="2.90" height="3.20" fill="#9BBB59"/>
<rect x="626.81" y="381.35" width="2.90" height="75.45" fill="#F79646"/>
<rect x="626.81" y="375.42" width="2.90" height="5.93" fill="#4F81BD"/>
<rect x="626.81" y="352.03" width="2.90" height="23.39" fill="#4BACC6"/>
<rect x="626.81" y="323.35" width="2.90" height="28.68" fill="#C0504D"/>
<rect x="626.81" y="313.74" width="2.90" height="9.61" fill="#9BBB59"/>
<rect x="629.66" y="393.36" width="2.90" height="63.44" fill="#F79646"/>
<rect x="629.66" y="328.16" width="2.90" height="65.20" fill="#4BACC6"/>
<rect x="629.66" y="300.61" width="2.90" height="27.55" fill="#C0504D"/>
<rect x="632.51" y="395.76" width="2.90" height="61.04" fill="#F79646"/>
<rect x="632.51" y="364.04" width="2.90" height="31.72" fill="#4BACC6"/>
<rect x="632.51" y="313.74" width="2.90" height="50.30" fill="#9BBB59"/>
<rect x="635.36" y="445.59" width="2.90" height="11.21" fill="#F79646"/>
<rect x="635.36" y="396.89" width="2.90" height="48.70" fill="#4F81BD"/>
<rect x="635.36" y="376.70" width="2.90" height="20.19" fill="#4BACC6"/>
<rect x="635.36" y="367.09" width="2.90" height="9.61" fill="#C0504D"/>
<rect x="635.36" y="328.16" width="2.90" height="38.93" fill="#9BBB59"/>
<rect x="638.22" y="297.56" width="2.90" height="159.24" fill="#71588F"/>
<rect x="641.07" y="297.56" width="2.90" height="159.24" fill="#71588F"/>
<rect x="643.92" y="297.56" width="2.90" height="159.24" fill="#71588F"/>
<rect x="646.77" y="297.56" width="2.90" height="159.24" fill="#71588F"/>
<rect x="649.62" y="297.56" width="2.90" height="159.24" fill="#71588F"/>
<rect x="652.48" y="297.56" width="2.90" height="159.24" fill="#71588F"/>
<rect x="44.8" y="547.6" width="610.54" height="160.2" fill="#A99BBD"/>
<rect x="44.80" y="706.68" width="2.90" height="1.12" fill="#71588F"/>
<rect x="44.80" y="548.88" width="2.90" height="157.80" fill="#DB843D"/>
<rect x="47.65" y="706.68" width="2.90" height="1.12" fill="#71588F"/>
<rect x="47.65" y="548.88" width="2.90" height="157.80" fill="#DB843D"/>
<rect x="50.51" y="706.68" width="2.90" height="1.12" fill="#71588F"/>
<rect x="50.51" y="548.88" width="2.90" height="157.80" fill="#DB843D"/>
<rect x="53.36" y="706.68" width="2.90" height="1.12" fill="#71588F"/>
<rect x="53.36" y="548.88" width="2.90" height="157.80" fill="#DB843D"/>
<rect x="56.21" y="706.68" width="2.90" height="1.12" fill="#71588F"/>
<rect x="56.21" y="548.88" width="2.90" height="157.80" fill="#DB843D"/>
<rect x="59.06" y="706.68" width="2.90" height="1.12" fill="#71588F"/>
<rect x="59.06" y="548.88" width="2.90" height="157.80" fill="#DB843D"/>
<rect x="61.92" y="706.68" width="2.90" height="1.12" fill="#71588F"/>
<rect x="61.92" y="548.88" width="2.90" height="157.80" fill="#DB843D"/>
<rect x="64.77" y="706.68" width="2.90" height="1.12" fill="#71588F"/>
<rect x="64.77" y="548.88" width="2.90" height="157.80" fill="#DB843D"/>
<rect x="67.62" y="706.68" width="2.90" height="1.12" fill="#71588F"/>
<rect x="67.62" y="548.88" width="2.90" height="157.80" fill="#DB843D"/>
<rect x="70.48" y="706.68" width="2.90" height="1.12" fill="#71588F"/>
<rect x="70.48" y="548.88" width="2.90" height="157.80" fill="#DB843D"/>
<rect x="73.33" y="706.68" width="2.90" height="1.12" fill="#71588F"/>
<rect x="73.33" y="548.88" width="2.90" height="157.80" fill="#DB843D"/>
<rect x="76.18" y="706.68" width="2.90" height="1.12" fill="#71588F"/>
<rect x="76.18" y="549.20" width="2.90" height="157.48" fill="#DB843D"/>
<rect x="79.04" y="706.68" width="2.90" height="1.12" fill="#71588F"/>
<rect x="79.04" y="559.13" width="2.90" height="147.54" fill="#DB843D"/>
<rect x="79.04" y="549.20" width="2.90" height="9.93" fill="#93A9CF"/>
<rect x="81.89" y="706.68" width="2.90" height="1.12" fill="#71588F"/>
<rect x="81.89" y="559.13" width="2.90" height="147.54" fill="#DB843D"/>
<rect x="81.89" y="549.20" width="2.90" height="9.93" fill="#93A9CF"/>
<rect x="84.74" y="706.68" width="2.90" height="1.12" fill="#71588F"/>
<rect x="84.74" y="554.01" width="2.90" height="152.67" fill="#DB843D"/>
<rect x="84.74" y="549.20" width="2.90" height="4.81" fill="#93A9CF"/>
<rect x="87.59" y="696.11" width="2.90" height="11.69" fill="#71588F"/>
<rect x="87.59" y="550.00" width="2.90" height="146.10" fill="#DB843D"/>
<rect x="90.45" y="704.60" width="2.90" height="3.20" fill="#71588F"/>
<rect x="90.45" y="559.13" width="2.90" height="145.46" fill="#DB843D"/>
<rect x="90.45" y="551.61" width="2.90" height="7.53" fill="#93A9CF"/>
<rect x="93.30" y="693.70" width="2.90" height="14.10" fill="#71588F"/>
<rect x="93.30" y="551.28" width="2.90" height="142.42" fill="#DB843D"/>
<rect x="96.15" y="704.60" width="2.90" height="3.20" fill="#71588F"/>
<rect x="96.15" y="566.98" width="2.90" height="137.61" fill="#DB843D"/>
<rect x="96.15" y="552.41" width="2.90" height="14.58" fill="#93A9CF"/>
<rect x="99.01" y="699.79" width="2.90" height="8.01" fill="#71588F"/>
<rect x="99.01" y="568.11" width="2.90" height="131.68" fill="#DB843D"/>
<rect x="99.01" y="554.01" width="2.90" height="14.10" fill="#93A9CF"/>
<rect x="101.86" y="683.29" width="2.90" height="24.51" fill="#71588F"/>
<rect x="101.86" y="557.37" width="2.90" height="125.92" fill="#DB843D"/>
<rect x="101.86" y="552.41" width="2.90" height="4.97" fill="#93A9CF"/>
<rect x="104.71" y="702.35" width="2.90" height="5.45" fill="#71588F"/>
<rect x="104.71" y="602.07" width="2.90" height="100.29" fill="#DB843D"/>
<rect x="104.71" y="549.20" width="2.90" height="52.87" fill="#93A9CF"/>
<rect x="107.57" y="702.35" width="2.90" height="5.45" fill="#71588F"/>
<rect x="107.57" y="602.07" width="2.90" height="100.29" fill="#DB843D"/>
<rect x="107.57" y="549.20" width="2.90" height="52.87" fill="#93A9CF"/>
<rect x="110.42" y="702.35" width="2.90" height="5.45" fill="#71588F"/>
<rect x="110.42" y="602.07" width="2.90" height="100.29" fill="#DB843D"/>
<rect x="110.42" y="549.20" width="2.90" height="52.87" fill="#93A9CF"/>
<rect x="113.27" y="702.35" width="2.90" height="5.45" fill="#71588F"/>
<rect x="113.27" y="602.07" width="2.90" height="100.29" fill="#DB843D"/>
<rect x="113.27" y="549.20" width="2.90" height="52.87" fill="#93A9CF"/>
<rect x="116.12" y="706.68" width="2.90" height="1.12" fill="#71588F"/>
<rect x="116.12" y="607.67" width="2.90" height="99.00" fill="#DB843D"/>
<rect x="116.12" y="549.20" width="2.90" height="58.47" fill="#93A9CF"/>
<rect x="118.98" y="706.68" width="2.90" height="1.12" fill="#71588F"/>
<rect x="118.98" y="608.80" width="2.90" height="97.88" fill="#DB843D"/>
<rect x="118.98" y="549.20" width="2.90" height="59.59" fill="#93A9CF"/>
<rect x="121.83" y="706.68" width="2.90" height="1.12" fill="#71588F"/>
<rect x="121.83" y="608.80" width="2.90" height="97.88" fill="#DB843D"/>
<rect x="121.83" y="549.20" width="2.90" height="59.59" fill="#93A9CF"/>
<rect x="124.68" y="706.68" width="2.90" height="1.12" fill="#71588F"/>
<rect x="124.68" y="608.80" width="2.90" height="97.88" fill="#DB843D"/>
<rect x="124.68" y="549.20" width="2.90" height="59.59" fill="#93A9CF"/>
<rect x="127.54" y="699.47" width="2.90" height="8.33" fill="#71588F"/>
<rect x="127.54" y="616.01" width="2.90" height="83.46" fill="#DB843D"/>
<rect x="127.54" y="607.03" width="2.90" height="8.97" fill="#93A9CF"/>
<rect x="127.54" y="601.75" width="2.90" height="5.29" fill="#B9CD96"/>
<rect x="130.39" y="699.47" width="2.90" height="8.33" fill="#71588F"/>
<rect x="130.39" y="616.01" width="2.90" height="83.46" fill="#DB843D"/>
<rect x="130.39" y="607.03" width="2.90" height="8.97" fill="#93A9CF"/>
<rect x="130.39" y="601.75" width="2.90" height="5.29" fill="#B9CD96"/>
<rect x="133.24" y="612.48" width="2.90" height="95.32" fill="#71588F"/>
<rect x="133.24" y="564.58" width="2.90" height="47.90" fill="#DB843D"/>
<rect x="136.10" y="650.13" width="2.90" height="57.67" fill="#4572A7"/>
<rect x="136.10" y="647.72" width="2.90" height="2.40" fill="#71588F"/>
<rect x="136.10" y="635.87" width="2.90" height="11.85" fill="#4198AF"/>
<rect x="136.10" y="589.73" width="2.90" height="46.14" fill="#DB843D"/>
<rect x="136.10" y="550.80" width="2.90" height="38.93" fill="#93A9CF"/>
<rect x="138.95" y="550.80" width="2.90" height="157.00" fill="#71588F"/>
<rect x="138.95" y="549.20" width="2.90" height="1.60" fill="#DB843D"/>
<rect x="141.80" y="550.80" width="2.90" height="157.00" fill="#71588F"/>
<rect x="141.80" y="549.20" width="2.90" height="1.60" fill="#DB843D"/>
<rect x="144.66" y="550.80" width="2.90" height="157.00" fill="#71588F"/>
<rect x="144.66" y="549.20" width="2.90" height="1.60" fill="#DB843D"/>
<rect x="147.51" y="557.37" width="2.90" height="150.43" fill="#71588F"/>
<rect x="147.51" y="550.80" width="2.90" height="6.57" fill="#DB843D"/>
<rect x="150.36" y="558.49" width="2.90" height="149.31" fill="#71588F"/>
<rect x="150.36" y="550.80" width="2.90" height="7.69" fill="#DB843D"/>
<rect x="153.21" y="706.20" width="2.90" height="1.60" fill="#71588F"/>
<rect x="153.21" y="683.77" width="2.90" height="22.43" fill="#89A54E"/>
<rect x="153.21" y="562.18" width="2.90" height="121.59" fill="#71588F"/>
<rect x="153.21" y="559.62" width="2.90" height="2.56" fill="#4198AF"/>
<rect x="153.21" y="551.28" width="2.90" height="8.33" fill="#93A9CF"/>
<rect x="156.07" y="556.09" width="2.90" height="151.71" fill="#71588F"/>
<rect x="156.07" y="551.93" width="2.90" height="4.17" fill="#B9CD96"/>
<rect x="158.92" y="556.09" width="2.90" height="151.71" fill="#71588F"/>
<rect x="161.77" y="577.72" width="2.90" height="130.08" fill="#71588F"/>
<rect x="161.77" y="560.90" width="2.90" height="16.82" fill="#B9CD96"/>
<rect x="164.63" y="585.57" width="2.90" height="122.23" fill="#71588F"/>
<rect x="164.63" y="583.64" width="2.90" height="1.92" fill="#D19392"/>
<rect x="164.63" y="562.18" width="2.90" height="21.47" fill="#B9CD96"/>
<rect x="167.48" y="644.84" width="2.90" height="62.96" fill="#71588F"/>
<rect x="167.48" y="611.36" width="2.90" height="33.48" fill="#DB843D"/>
<rect x="167.48" y="568.11" width="2.90" height="43.25" fill="#93A9CF"/>
<rect x="170.33" y="592.14" width="2.90" height="115.66" fill="#71588F"/>
<rect x="170.33" y="588.45" width="2.90" height="3.68" fill="#DB843D"/>
<rect x="170.33" y="566.34" width="2.90" height="22.11" fill="#B9CD96"/>
<rect x="173.19" y="596.94" width="2.90" height="110.86" fill="#71588F"/>
<rect x="173.19" y="592.14" width="2.90" height="4.81" fill="#DB843D"/>
<rect x="173.19" y="568.11" width="2.90" height="24.03" fill="#B9CD96"/>
<rect x="176.04" y="644.20" width="2.90" height="63.60" fill="#71588F"/>
<rect x="176.04" y="616.01" width="2.90" height="28.20" fill="#DB843D"/>
<rect x="176.04" y="599.34" width="2.90" height="16.66" fill="#93A9CF"/>
<rect x="176.04" y="586.05" width="2.90" height="13.30" fill="#B9CD96"/>
<rect x="178.89" y="622.09" width="2.90" height="85.71" fill="#71588F"/>
<rect x="178.89" y="614.88" width="2.90" height="7.21" fill="#DB843D"/>
<rect x="178.89" y="611.36" width="2.90" height="3.52" fill="#93A9CF"/>
<rect x="178.89" y="586.05" width="2.90" height="25.31" fill="#B9CD96"/>
<rect x="181.74" y="608.32" width="2.90" height="99.48" fill="#71588F"/>
<rect x="181.74" y="604.63" width="2.90" height="3.68" fill="#DB843D"/>
<rect x="181.74" y="598.06" width="2.90" height="6.57" fill="#93A9CF"/>
<rect x="181.74" y="593.26" width="2.90" height="4.81" fill="#B9CD96"/>
<rect x="184.60" y="608.32" width="2.90" height="99.48" fill="#71588F"/>
<rect x="184.60" y="604.63" width="2.90" height="3.68" fill="#DB843D"/>
<rect x="184.60" y="598.06" width="2.90" height="6.57" fill="#93A9CF"/>
<rect x="184.60" y="593.26" width="2.90" height="4.81" fill="#B9CD96"/>
<rect x="187.45" y="692.26" width="2.90" height="15.54" fill="#71588F"/>
<rect x="187.45" y="658.62" width="2.90" height="33.64" fill="#DB843D"/>
<rect x="187.45" y="599.83" width="2.90" height="58.79" fill="#93A9CF"/>
<rect x="190.30" y="692.26" width="2.90" height="15.54" fill="#71588F"/>
<rect x="190.30" y="658.62" width="2.90" height="33.64" fill="#DB843D"/>
<rect x="190.30" y="599.83" width="2.90" height="58.79" fill="#93A9CF"/>
<rect x="193.16" y="692.26" width="2.90" height="15.54" fill="#71588F"/>
<rect x="193.16" y="658.62" width="2.90" height="33.64" fill="#DB843D"/>
<rect x="193.16" y="599.83" width="2.90" height="58.79" fill="#93A9CF"/>
<rect x="196.01" y="692.26" width="2.90" height="15.54" fill="#71588F"/>
<rect x="196.01" y="658.62" width="2.90" height="33.64" fill="#DB843D"/>
<rect x="196.01" y="602.07" width="2.90" height="56.55" fill="#93A9CF"/>
<rect x="196.01" y="599.83" width="2.90" height="2.24" fill="#B9CD96"/>
<rect x="198.86" y="690.98" width="2.90" height="16.82" fill="#71588F"/>
<rect x="198.86" y="650.29" width="2.90" height="40.69" fill="#DB843D"/>
<rect x="198.86" y="605.27" width="2.90" height="45.02" fill="#93A9CF"/>
<rect x="198.86" y="603.67" width="2.90" height="1.60" fill="#B9CD96"/>
<rect x="201.72" y="690.98" width="2.90" height="16.82" fill="#71588F"/>
<rect x="201.72" y="661.34" width="2.90" height="29.64" fill="#DB843D"/>
<rect x="201.72" y="608.48" width="2.90" height="52.87" fill="#93A9CF"/>
<rect x="201.72" y="606.07" width="2.90" height="2.40" fill="#B9CD96"/>
<rect x="204.57" y="685.05" width="2.90" height="22.75" fill="#71588F"/>
<rect x="204.57" y="664.55" width="2.90" height="20.51" fill="#DB843D"/>
<rect x="204.57" y="614.88" width="2.90" height="49.66" fill="#93A9CF"/>
<rect x="204.57" y="608.48" width="2.90" height="6.41" fill="#D19392"/>
<rect x="207.42" y="690.98" width="2.90" height="16.82" fill="#71588F"/>
<rect x="207.42" y="645.48" width="2.90" height="45.50" fill="#DB843D"/>
<rect x="207.42" y="613.28" width="2.90" height="32.20" fill="#93A9CF"/>
<rect x="207.42" y="611.68" width="2.90" height="1.60" fill="#B9CD96"/>
<rect x="210.27" y="706.20" width="2.90" height="1.60" fill="#71588F"/>
<rect x="210.27" y="674.16" width="2.90" height="32.04" fill="#89A54E"/>
<rect x="210.27" y="647.89" width="2.90" height="26.27" fill="#71588F"/>
<rect x="210.27" y="645.32" width="2.90" height="2.56" fill="#DB843D"/>
<rect x="210.27" y="634.11" width="2.90" height="11.21" fill="#D19392"/>
<rect x="210.27" y="611.68" width="2.90" height="22.43" fill="#B9CD96"/>
<rect x="213.13" y="694.66" width="2.90" height="13.14" fill="#71588F"/>
<rect x="213.13" y="671.75" width="2.90" height="22.91" fill="#DB843D"/>
<rect x="213.13" y="621.29" width="2.90" height="50.46" fill="#93A9CF"/>
<rect x="213.13" y="619.69" width="2.90" height="1.60" fill="#B9CD96"/>
<rect x="215.98" y="694.66" width="2.90" height="13.14" fill="#71588F"/>
<rect x="215.98" y="671.75" width="2.90" height="22.91" fill="#DB843D"/>
<rect x="215.98" y="624.50" width="2.90" height="47.26" fill="#93A9CF"/>
<rect x="215.98" y="622.89" width="2.90" height="1.60" fill="#B9CD96"/>
<rect x="218.83" y="693.38" width="2.90" height="14.42" fill="#71588F"/>
<rect x="218.83" y="671.75" width="2.90" height="21.63" fill="#DB843D"/>
<rect x="218.83" y="627.70" width="2.90" height="44.06" fill="#93A9CF"/>
<rect x="218.83" y="626.10" width="2.90" height="1.60" fill="#B9CD96"/>
<rect x="221.69" y="649.01" width="2.90" height="58.79" fill="#71588F"/>
<rect x="221.69" y="644.20" width="2.90" height="4.81" fill="#DB843D"/>
<rect x="221.69" y="632.51" width="2.90" height="11.69" fill="#93A9CF"/>
<rect x="221.69" y="626.10" width="2.90" height="6.41" fill="#B9CD96"/>
<rect x="224.54" y="694.66" width="2.90" height="13.14" fill="#71588F"/>
<rect x="224.54" y="670.63" width="2.90" height="24.03" fill="#DB843D"/>
<rect x="224.54" y="635.71" width="2.90" height="34.92" fill="#93A9CF"/>
<rect x="224.54" y="632.51" width="2.90" height="3.20" fill="#D19392"/>
<rect x="224.54" y="627.70" width="2.90" height="4.81" fill="#B9CD96"/>
<rect x="227.39" y="672.40" width="2.90" height="35.40" fill="#71588F"/>
<rect x="227.39" y="640.68" width="2.90" height="31.72" fill="#B9CD96"/>
<rect x="230.25" y="672.40" width="2.90" height="35.40" fill="#71588F"/>
<rect x="230.25" y="640.68" width="2.90" height="31.72" fill="#B9CD96"/>
<rect x="233.10" y="672.40" width="2.90" height="35.40" fill="#71588F"/>
<rect x="233.10" y="640.68" width="2.90" height="31.72" fill="#B9CD96"/>
<rect x="235.95" y="672.40" width="2.90" height="35.40" fill="#71588F"/>
<rect x="235.95" y="640.68" width="2.90" height="31.72" fill="#B9CD96"/>
<rect x="238.80" y="688.58" width="2.90" height="19.22" fill="#71588F"/>
<rect x="238.80" y="661.02" width="2.90" height="27.55" fill="#D19392"/>
<rect x="238.80" y="646.60" width="2.90" height="14.42" fill="#B9CD96"/>
<rect x="241.66" y="668.23" width="2.90" height="39.57" fill="#71588F"/>
<rect x="241.66" y="649.01" width="2.90" height="19.22" fill="#B9CD96"/>
<rect x="244.51" y="688.58" width="2.90" height="19.22" fill="#71588F"/>
<rect x="244.51" y="667.11" width="2.90" height="21.47" fill="#D19392"/>
<rect x="244.51" y="651.41" width="2.90" height="15.70" fill="#B9CD96"/>
<rect x="247.36" y="670.63" width="2.90" height="37.17" fill="#71588F"/>
<rect x="247.36" y="653.33" width="2.90" height="17.30" fill="#B9CD96"/>
<rect x="250.22" y="670.63" width="2.90" height="37.17" fill="#71588F"/>
<rect x="250.22" y="653.33" width="2.90" height="17.30" fill="#B9CD96"/>
<rect x="253.07" y="670.63" width="2.90" height="37.17" fill="#71588F"/>
<rect x="253.07" y="653.33" width="2.90" height="17.30" fill="#B9CD96"/>
<rect x="255.92" y="670.63" width="2.90" height="37.17" fill="#71588F"/>
<rect x="255.92" y="653.33" width="2.90" height="17.30" fill="#B9CD96"/>
<rect x="258.78" y="549.20" width="2.90" height="158.60" fill="#AA4643"/>
<rect x="261.63" y="705.88" width="2.90" height="1.92" fill="#89A54E"/>
<rect x="261.63" y="549.20" width="2.90" height="156.68" fill="#4198AF"/>
<rect x="264.48" y="705.88" width="2.90" height="1.92" fill="#89A54E"/>
<rect x="264.48" y="549.20" width="2.90" height="156.68" fill="#4198AF"/>
<rect x="267.33" y="705.88" width="2.90" height="1.92" fill="#89A54E"/>
<rect x="267.33" y="549.20" width="2.90" height="156.68" fill="#4198AF"/>
<rect x="270.19" y="705.88" width="2.90" height="1.92" fill="#89A54E"/>
<rect x="270.19" y="549.20" width="2.90" height="156.68" fill="#4198AF"/>
<rect x="273.04" y="705.88" width="2.90" height="1.92" fill="#89A54E"/>
<rect x="273.04" y="549.20" width="2.90" height="156.68" fill="#4198AF"/>
<rect x="275.89" y="705.88" width="2.90" height="1.92" fill="#89A54E"/>
<rect x="275.89" y="549.20" width="2.90" height="156.68" fill="#4198AF"/>
<rect x="278.75" y="705.88" width="2.90" height="1.92" fill="#89A54E"/>
<rect x="278.75" y="549.20" width="2.90" height="156.68" fill="#4198AF"/>
<rect x="281.60" y="705.88" width="2.90" height="1.92" fill="#89A54E"/>
<rect x="281.60" y="549.20" width="2.90" height="156.68" fill="#4198AF"/>
<rect x="284.45" y="705.88" width="2.90" height="1.92" fill="#89A54E"/>
<rect x="284.45" y="549.20" width="2.90" height="156.68" fill="#4198AF"/>
<rect x="287.31" y="705.88" width="2.90" height="1.92" fill="#89A54E"/>
<rect x="287.31" y="549.20" width="2.90" height="156.68" fill="#4198AF"/>
<rect x="290.16" y="705.88" width="2.90" height="1.92" fill="#89A54E"/>
<rect x="290.16" y="549.20" width="2.90" height="156.68" fill="#4198AF"/>
<rect x="293.01" y="705.88" width="2.90" height="1.92" fill="#89A54E"/>
<rect x="293.01" y="549.20" width="2.90" height="156.68" fill="#4198AF"/>
<rect x="295.86" y="705.88" width="2.90" height="1.92" fill="#89A54E"/>
<rect x="295.86" y="549.20" width="2.90" height="156.68" fill="#4198AF"/>
<rect x="298.72" y="704.60" width="2.90" height="3.20" fill="#89A54E"/>
<rect x="298.72" y="551.12" width="2.90" height="153.47" fill="#4198AF"/>
<rect x="298.72" y="549.20" width="2.90" height="1.92" fill="#D19392"/>
<rect x="301.57" y="704.60" width="2.90" height="3.20" fill="#89A54E"/>
<rect x="301.57" y="551.12" width="2.90" height="153.47" fill="#4198AF"/>
<rect x="301.57" y="549.20" width="2.90" height="1.92" fill="#D19392"/>
<rect x="304.42" y="704.60" width="2.90" height="3.20" fill="#89A54E"/>
<rect x="304.42" y="551.12" width="2.90" height="153.47" fill="#4198AF"/>
<rect x="304.42" y="549.20" width="2.90" height="1.92" fill="#D19392"/>
<rect x="307.28" y="704.60" width="2.90" height="3.20" fill="#89A54E"/>
<rect x="307.28" y="551.12" width="2.90" height="153.47" fill="#4198AF"/>
<rect x="307.28" y="549.20" width="2.90" height="1.92" fill="#D19392"/>
<rect x="310.13" y="705.40" width="2.90" height="2.40" fill="#89A54E"/>
<rect x="310.13" y="553.69" width="2.90" height="151.71" fill="#4198AF"/>
<rect x="310.13" y="550.80" width="2.90" height="2.88" fill="#D19392"/>
<rect x="312.98" y="704.60" width="2.90" height="3.20" fill="#89A54E"/>
<rect x="312.98" y="557.37" width="2.90" height="147.22" fill="#4198AF"/>
<rect x="312.98" y="554.81" width="2.90" height="2.56" fill="#D19392"/>
<rect x="315.84" y="704.60" width="2.90" height="3.20" fill="#89A54E"/>
<rect x="315.84" y="556.41" width="2.90" height="148.19" fill="#4198AF"/>
<rect x="315.84" y="554.01" width="2.90" height="2.40" fill="#D19392"/>
<rect x="318.69" y="703.79" width="2.90" height="4.00" fill="#89A54E"/>
<rect x="318.69" y="554.97" width="2.90" height="148.83" fill="#4198AF"/>
<rect x="318.69" y="552.41" width="2.90" height="2.56" fill="#D19392"/>
<rect x="321.54" y="702.99" width="2.90" height="4.81" fill="#89A54E"/>
<rect x="321.54" y="555.61" width="2.90" height="147.38" fill="#4198AF"/>
<rect x="321.54" y="553.21" width="2.90" height="2.40" fill="#D19392"/>
<rect x="324.39" y="702.99" width="2.90" height="4.81" fill="#89A54E"/>
<rect x="324.39" y="557.85" width="2.90" height="145.14" fill="#4198AF"/>
<rect x="324.39" y="554.81" width="2.90" height="3.04" fill="#D19392"/>
<rect x="327.25" y="706.20" width="2.90" height="1.60" fill="#89A54E"/>
<rect x="327.25" y="562.18" width="2.90" height="144.02" fill="#4198AF"/>
<rect x="327.25" y="558.81" width="2.90" height="3.36" fill="#D19392"/>
<rect x="330.10" y="702.99" width="2.90" height="4.81" fill="#89A54E"/>
<rect x="330.10" y="566.34" width="2.90" height="136.65" fill="#4198AF"/>
<rect x="330.10" y="562.02" width="2.90" height="4.33" fill="#D19392"/>
<rect x="332.95" y="701.39" width="2.90" height="6.41" fill="#89A54E"/>
<rect x="332.95" y="569.23" width="2.90" height="132.16" fill="#4198AF"/>
<rect x="332.95" y="565.22" width="2.90" height="4.00" fill="#D19392"/>
<rect x="335.81" y="580.12" width="2.90" height="127.68" fill="#4198AF"/>
<rect x="338.66" y="580.12" width="2.90" height="127.68" fill="#4198AF"/>
<rect x="341.51" y="580.12" width="2.90" height="127.68" fill="#4198AF"/>
<rect x="344.37" y="578.84" width="2.90" height="128.96" fill="#4198AF"/>
<rect x="347.22" y="704.60" width="2.90" height="3.20" fill="#D19392"/>
<rect x="347.22" y="577.08" width="2.90" height="127.52" fill="#4198AF"/>
<rect x="350.07" y="702.99" width="2.90" height="4.81" fill="#AA4643"/>
<rect x="350.07" y="701.39" width="2.90" height="1.60" fill="#B9CD96"/>
<rect x="350.07" y="575.96" width="2.90" height="125.44" fill="#4198AF"/>
<rect x="352.92" y="698.19" width="2.90" height="9.61" fill="#AA4643"/>
<rect x="352.92" y="694.66" width="2.90" height="3.52" fill="#89A54E"/>
<rect x="352.92" y="572.91" width="2.90" height="121.75" fill="#4198AF"/>
<rect x="352.92" y="570.03" width="2.90" height="2.88" fill="#D19392"/>
<rect x="355.78" y="701.39" width="2.90" height="6.41" fill="#AA4643"/>
<rect x="355.78" y="690.98" width="2.90" height="10.41" fill="#71588F"/>
<rect x="355.78" y="569.23" width="2.90" height="121.75" fill="#4198AF"/>
<rect x="355.78" y="563.30" width="2.90" height="5.93" fill="#DB843D"/>
<rect x="355.78" y="551.28" width="2.90" height="12.01" fill="#D19392"/>
<rect x="358.63" y="696.59" width="2.90" height="11.21" fill="#4572A7"/>
<rect x="358.63" y="689.86" width="2.90" height="6.73" fill="#89A54E"/>
<rect x="358.63" y="568.11" width="2.90" height="121.75" fill="#4198AF"/>
<rect x="358.63" y="551.28" width="2.90" height="16.82" fill="#D19392"/>
<rect x="361.48" y="697.07" width="2.90" height="10.73" fill="#4572A7"/>
<rect x="361.48" y="694.98" width="2.90" height="2.08" fill="#B9CD96"/>
<rect x="361.48" y="589.73" width="2.90" height="105.25" fill="#4198AF"/>
<rect x="361.48" y="586.05" width="2.90" height="3.68" fill="#93A9CF"/>
<rect x="361.48" y="551.28" width="2.90" height="34.76" fill="#D19392"/>
<rect x="364.34" y="680.25" width="2.90" height="27.55" fill="#4572A7"/>
<rect x="364.34" y="657.98" width="2.90" height="22.27" fill="#89A54E"/>
<rect x="364.34" y="656.86" width="2.90" height="1.12" fill="#71588F"/>
<rect x="364.34" y="559.13" width="2.90" height="97.72" fill="#4198AF"/>
<rect x="364.34" y="552.09" width="2.90" height="7.05" fill="#D19392"/>
<rect x="367.19" y="680.25" width="2.90" height="27.55" fill="#4572A7"/>
<rect x="367.19" y="657.98" width="2.90" height="22.27" fill="#89A54E"/>
<rect x="367.19" y="656.86" width="2.90" height="1.12" fill="#71588F"/>
<rect x="367.19" y="559.13" width="2.90" height="97.72" fill="#4198AF"/>
<rect x="367.19" y="552.09" width="2.90" height="7.05" fill="#D19392"/>
<rect x="370.04" y="693.38" width="2.90" height="14.42" fill="#4572A7"/>
<rect x="370.04" y="678.96" width="2.90" height="14.42" fill="#71588F"/>
<rect x="370.04" y="584.93" width="2.90" height="94.04" fill="#4198AF"/>
<rect x="370.04" y="578.84" width="2.90" height="6.09" fill="#DB843D"/>
<rect x="370.04" y="556.09" width="2.90" height="22.75" fill="#93A9CF"/>
<rect x="370.04" y="551.28" width="2.90" height="4.81" fill="#D19392"/>
<rect x="372.90" y="685.05" width="2.90" height="22.75" fill="#4572A7"/>
<rect x="372.90" y="647.89" width="2.90" height="37.17" fill="#89A54E"/>
<rect x="372.90" y="553.05" width="2.90" height="94.84" fill="#4198AF"/>
<rect x="375.75" y="686.17" width="2.90" height="21.63" fill="#4572A7"/>
<rect x="375.75" y="675.76" width="2.90" height="10.41" fill="#89A54E"/>
<rect x="375.75" y="670.95" width="2.90" height="4.81" fill="#71588F"/>
<rect x="375.75" y="583.64" width="2.90" height="87.31" fill="#4198AF"/>
<rect x="375.75" y="569.87" width="2.90" height="13.78" fill="#93A9CF"/>
<rect x="375.75" y="565.70" width="2.90" height="4.17" fill="#B9CD96"/>
<rect x="378.60" y="682.65" width="2.90" height="25.15" fill="#4572A7"/>
<rect x="378.60" y="643.08" width="2.90" height="39.57" fill="#71588F"/>
<rect x="378.60" y="572.27" width="2.90" height="70.81" fill="#4198AF"/>
<rect x="378.60" y="570.03" width="2.90" height="2.24" fill="#93A9CF"/>
<rect x="378.60" y="566.82" width="2.90" height="3.20" fill="#B9CD96"/>
<rect x="381.45" y="683.77" width="2.90" height="24.03" fill="#4572A7"/>
<rect x="381.45" y="640.52" width="2.90" height="43.25" fill="#71588F"/>
<rect x="381.45" y="589.73" width="2.90" height="50.78" fill="#DB843D"/>
<rect x="381.45" y="551.28" width="2.90" height="38.45" fill="#93A9CF"/>
<rect x="384.31" y="674.16" width="2.90" height="33.64" fill="#89A54E"/>
<rect x="384.31" y="673.04" width="2.90" height="1.12" fill="#4572A7"/>
<rect x="384.31" y="551.28" width="2.90" height="121.75" fill="#D19392"/>
<rect x="387.16" y="674.16" width="2.90" height="33.64" fill="#89A54E"/>
<rect x="387.16" y="673.04" width="2.90" height="1.12" fill="#4572A7"/>
<rect x="387.16" y="551.28" width="2.90" height="121.75" fill="#D19392"/>
<rect x="390.01" y="706.20" width="2.90" height="1.60" fill="#89A54E"/>
<rect x="390.01" y="697.07" width="2.90" height="9.13" fill="#AA4643"/>
<rect x="390.01" y="661.02" width="2.90" height="36.05" fill="#89A54E"/>
<rect x="390.01" y="652.05" width="2.90" height="8.97" fill="#71588F"/>
<rect x="390.01" y="647.72" width="2.90" height="4.33" fill="#DB843D"/>
<rect x="390.01" y="643.08" width="2.90" height="4.65" fill="#93A9CF"/>
<rect x="390.01" y="551.28" width="2.90" height="91.79" fill="#D19392"/>
<rect x="392.87" y="669.35" width="2.90" height="38.45" fill="#89A54E"/>
<rect x="392.87" y="584.93" width="2.90" height="84.43" fill="#71588F"/>
<rect x="392.87" y="577.72" width="2.90" height="7.21" fill="#4198AF"/>
<rect x="392.87" y="551.28" width="2.90" height="26.43" fill="#D19392"/>
<rect x="395.72" y="656.22" width="2.90" height="51.58" fill="#89A54E"/>
<rect x="395.72" y="650.29" width="2.90" height="5.93" fill="#71588F"/>
<rect x="395.72" y="551.28" width="2.90" height="99.00" fill="#D19392"/>
<rect x="398.57" y="640.68" width="2.90" height="67.12" fill="#89A54E"/>
<rect x="398.57" y="632.19" width="2.90" height="8.49" fill="#71588F"/>
<rect x="398.57" y="614.88" width="2.90" height="17.30" fill="#DB843D"/>
<rect x="398.57" y="577.72" width="2.90" height="37.17" fill="#93A9CF"/>
<rect x="398.57" y="572.91" width="2.90" height="4.81" fill="#B9CD96"/>
<rect x="398.57" y="551.28" width="2.90" height="21.63" fill="#D19392"/>
<rect x="401.43" y="601.75" width="2.90" height="106.05" fill="#89A54E"/>
<rect x="401.43" y="580.12" width="2.90" height="21.63" fill="#71588F"/>
<rect x="401.43" y="572.91" width="2.90" height="7.21" fill="#4198AF"/>
<rect x="401.43" y="562.18" width="2.90" height="10.73" fill="#DB843D"/>
<rect x="401.43" y="551.28" width="2.90" height="10.89" fill="#D19392"/>
<rect x="404.28" y="592.14" width="2.90" height="115.66" fill="#89A54E"/>
<rect x="404.28" y="568.11" width="2.90" height="24.03" fill="#4198AF"/>
<rect x="404.28" y="551.28" width="2.90" height="16.82" fill="#D19392"/>
<rect x="407.13" y="598.06" width="2.90" height="109.74" fill="#89A54E"/>
<rect x="407.13" y="590.85" width="2.90" height="7.21" fill="#71588F"/>
<rect x="407.13" y="568.11" width="2.90" height="22.75" fill="#4198AF"/>
<rect x="407.13" y="551.28" width="2.90" height="16.82" fill="#D19392"/>
<rect x="409.98" y="564.58" width="2.90" height="143.22" fill="#89A54E"/>
<rect x="409.98" y="562.82" width="2.90" height="1.76" fill="#71588F"/>
<rect x="409.98" y="551.28" width="2.90" height="11.53" fill="#D19392"/>
<rect x="412.84" y="562.18" width="2.90" height="145.62" fill="#89A54E"/>
<rect x="412.84" y="559.78" width="2.90" height="2.40" fill="#4198AF"/>
<rect x="412.84" y="551.28" width="2.90" height="8.49" fill="#D19392"/>
<rect x="415.69" y="562.18" width="2.90" height="145.62" fill="#89A54E"/>
<rect x="415.69" y="559.78" width="2.90" height="2.40" fill="#4198AF"/>
<rect x="415.69" y="551.28" width="2.90" height="8.49" fill="#D19392"/>
<rect x="418.54" y="562.18" width="2.90" height="145.62" fill="#89A54E"/>
<rect x="418.54" y="559.78" width="2.90" height="2.40" fill="#4198AF"/>
<rect x="418.54" y="551.28" width="2.90" height="8.49" fill="#D19392"/>
<rect x="421.40" y="559.78" width="2.90" height="148.02" fill="#89A54E"/>
<rect x="421.40" y="558.01" width="2.90" height="1.76" fill="#71588F"/>
<rect x="421.40" y="551.28" width="2.90" height="6.73" fill="#D19392"/>
<rect x="424.25" y="559.78" width="2.90" height="148.02" fill="#89A54E"/>
<rect x="424.25" y="558.01" width="2.90" height="1.76" fill="#71588F"/>
<rect x="424.25" y="551.28" width="2.90" height="6.73" fill="#D19392"/>
<rect x="427.10" y="556.09" width="2.90" height="151.71" fill="#89A54E"/>
<rect x="427.10" y="554.81" width="2.90" height="1.28" fill="#71588F"/>
<rect x="427.10" y="551.28" width="2.90" height="3.52" fill="#D19392"/>
<rect x="429.96" y="552.57" width="2.90" height="155.23" fill="#89A54E"/>
<rect x="429.96" y="550.80" width="2.90" height="1.76" fill="#D19392"/>
<rect x="432.81" y="550.48" width="2.90" height="157.32" fill="#89A54E"/>
<rect x="435.66" y="550.48" width="2.90" height="157.32" fill="#89A54E"/>
<rect x="438.51" y="550.48" width="2.90" height="157.32" fill="#89A54E"/>
<rect x="441.37" y="550.48" width="2.90" height="157.32" fill="#89A54E"/>
<rect x="444.22" y="550.48" width="2.90" height="157.32" fill="#89A54E"/>
<rect x="447.07" y="704.28" width="2.90" height="3.52" fill="#4572A7"/>
<rect x="447.07" y="674.16" width="2.90" height="30.12" fill="#89A54E"/>
<rect x="447.07" y="671.75" width="2.90" height="2.40" fill="#4572A7"/>
<rect x="447.07" y="550.80" width="2.90" height="120.95" fill="#D19392"/>
<rect x="449.93" y="704.28" width="2.90" height="3.52" fill="#4572A7"/>
<rect x="449.93" y="674.16" width="2.90" height="30.12" fill="#89A54E"/>
<rect x="449.93" y="671.75" width="2.90" height="2.40" fill="#4572A7"/>
<rect x="449.93" y="550.80" width="2.90" height="120.95" fill="#D19392"/>
<rect x="452.78" y="706.20" width="2.90" height="1.60" fill="#4572A7"/>
<rect x="452.78" y="681.37" width="2.90" height="24.83" fill="#89A54E"/>
<rect x="452.78" y="678.96" width="2.90" height="2.40" fill="#71588F"/>
<rect x="452.78" y="557.37" width="2.90" height="121.59" fill="#D19392"/>
<rect x="455.63" y="706.20" width="2.90" height="1.60" fill="#4572A7"/>
<rect x="455.63" y="671.75" width="2.90" height="34.44" fill="#89A54E"/>
<rect x="455.63" y="669.35" width="2.90" height="2.40" fill="#4572A7"/>
<rect x="455.63" y="551.28" width="2.90" height="118.07" fill="#D19392"/>
<rect x="458.49" y="706.20" width="2.90" height="1.60" fill="#4572A7"/>
<rect x="458.49" y="678.96" width="2.90" height="27.23" fill="#89A54E"/>
<rect x="458.49" y="676.56" width="2.90" height="2.40" fill="#4572A7"/>
<rect x="458.49" y="556.73" width="2.90" height="119.83" fill="#D19392"/>
<rect x="461.34" y="702.99" width="2.90" height="4.81" fill="#4572A7"/>
<rect x="461.34" y="685.05" width="2.90" height="17.94" fill="#89A54E"/>
<rect x="461.34" y="682.65" width="2.90" height="2.40" fill="#4572A7"/>
<rect x="461.34" y="565.70" width="2.90" height="116.95" fill="#D19392"/>
<rect x="461.34" y="564.42" width="2.90" height="1.28" fill="#B9CD96"/>
<rect x="464.19" y="675.44" width="2.90" height="32.36" fill="#4572A7"/>
<rect x="464.19" y="663.42" width="2.90" height="12.01" fill="#89A54E"/>
<rect x="464.19" y="661.02" width="2.90" height="2.40" fill="#4572A7"/>
<rect x="464.19" y="553.69" width="2.90" height="107.33" fill="#D19392"/>
<rect x="467.04" y="702.99" width="2.90" height="4.81" fill="#4572A7"/>
<rect x="467.04" y="656.22" width="2.90" height="46.78" fill="#89A54E"/>
<rect x="467.04" y="653.81" width="2.90" height="2.40" fill="#4198AF"/>
<rect x="467.04" y="552.57" width="2.90" height="101.25" fill="#D19392"/>
<rect x="469.90" y="702.99" width="2.90" height="4.81" fill="#4572A7"/>
<rect x="469.90" y="658.62" width="2.90" height="44.38" fill="#89A54E"/>
<rect x="469.90" y="640.68" width="2.90" height="17.94" fill="#4198AF"/>
<rect x="469.90" y="552.57" width="2.90" height="88.11" fill="#D19392"/>
<rect x="472.75" y="676.56" width="2.90" height="31.24" fill="#4572A7"/>
<rect x="472.75" y="659.74" width="2.90" height="16.82" fill="#89A54E"/>
<rect x="472.75" y="640.68" width="2.90" height="19.06" fill="#4198AF"/>
<rect x="472.75" y="556.09" width="2.90" height="84.59" fill="#D19392"/>
<rect x="475.60" y="619.69" width="2.90" height="88.11" fill="#89A54E"/>
<rect x="475.60" y="616.01" width="2.90" height="3.68" fill="#71588F"/>
<rect x="475.60" y="553.21" width="2.90" height="62.80" fill="#D19392"/>
<rect x="475.60" y="549.20" width="2.90" height="4.00" fill="#B9CD96"/>
<rect x="478.46" y="651.41" width="2.90" height="56.39" fill="#4572A7"/>
<rect x="478.46" y="646.12" width="2.90" height="5.29" fill="#89A54E"/>
<rect x="478.46" y="642.12" width="2.90" height="4.00" fill="#71588F"/>
<rect x="478.46" y="636.99" width="2.90" height="5.13" fill="#DB843D"/>
<rect x="478.46" y="629.30" width="2.90" height="7.69" fill="#93A9CF"/>
<rect x="478.46" y="569.23" width="2.90" height="60.07" fill="#D19392"/>
<rect x="478.46" y="567.62" width="2.90" height="1.60" fill="#B9CD96"/>
<rect x="481.31" y="702.99" width="2.90" height="4.81" fill="#4572A7"/>
<rect x="481.31" y="662.30" width="2.90" height="40.69" fill="#89A54E"/>
<rect x="481.31" y="659.74" width="2.90" height="2.56" fill="#4572A7"/>
<rect x="481.31" y="627.70" width="2.90" height="32.04" fill="#D19392"/>
<rect x="481.31" y="595.66" width="2.90" height="8.49" fill="#B9CD96"/>
<rect x="484.16" y="698.19" width="2.90" height="9.61" fill="#4572A7"/>
<rect x="484.16" y="693.38" width="2.90" height="4.81" fill="#89A54E"/>
<rect x="484.16" y="689.86" width="2.90" height="3.52" fill="#71588F"/>
<rect x="484.16" y="683.77" width="2.90" height="6.09" fill="#DB843D"/>
<rect x="484.16" y="676.56" width="2.90" height="7.21" fill="#93A9CF"/>
<rect x="484.16" y="627.70" width="2.90" height="48.86" fill="#D19392"/>
<rect x="484.16" y="618.89" width="2.90" height="5.61" fill="#B9CD96"/>
<rect x="487.02" y="551.28" width="2.90" height="156.52" fill="#89A54E"/>
<rect x="489.87" y="558.49" width="2.90" height="149.31" fill="#71588F"/>
<rect x="489.87" y="551.93" width="2.90" height="6.57" fill="#DB843D"/>
<rect x="492.72" y="559.78" width="2.90" height="148.02" fill="#71588F"/>
<rect x="492.72" y="552.57" width="2.90" height="7.21" fill="#DB843D"/>
<rect x="495.57" y="706.20" width="2.90" height="1.60" fill="#71588F"/>
<rect x="495.57" y="697.55" width="2.90" height="8.65" fill="#89A54E"/>
<rect x="495.57" y="573.55" width="2.90" height="123.99" fill="#71588F"/>
<rect x="495.57" y="569.23" width="2.90" height="4.33" fill="#4198AF"/>
<rect x="495.57" y="562.18" width="2.90" height="7.05" fill="#DB843D"/>
<rect x="498.43" y="616.01" width="2.90" height="91.79" fill="#71588F"/>
<rect x="498.43" y="587.33" width="2.90" height="28.68" fill="#DB843D"/>
<rect x="498.43" y="559.78" width="2.90" height="27.55" fill="#93A9CF"/>
<rect x="498.43" y="552.57" width="2.90" height="7.21" fill="#B9CD96"/>
<rect x="501.28" y="680.25" width="2.90" height="27.55" fill="#71588F"/>
<rect x="501.28" y="645.48" width="2.90" height="34.76" fill="#DB843D"/>
<rect x="501.28" y="620.81" width="2.90" height="24.67" fill="#93A9CF"/>
<rect x="501.28" y="613.12" width="2.90" height="7.69" fill="#B9CD96"/>
<rect x="501.28" y="568.11" width="2.90" height="45.02" fill="#93A9CF"/>
<rect x="504.13" y="695.78" width="2.90" height="12.01" fill="#71588F"/>
<rect x="504.13" y="671.75" width="2.90" height="24.03" fill="#DB843D"/>
<rect x="504.13" y="566.82" width="2.90" height="104.93" fill="#93A9CF"/>
<rect x="506.99" y="695.78" width="2.90" height="12.01" fill="#71588F"/>
<rect x="506.99" y="676.56" width="2.90" height="19.22" fill="#DB843D"/>
<rect x="506.99" y="614.88" width="2.90" height="61.68" fill="#93A9CF"/>
<rect x="506.99" y="611.68" width="2.90" height="3.20" fill="#D19392"/>
<rect x="506.99" y="610.08" width="2.90" height="1.60" fill="#93A9CF"/>
<rect x="506.99" y="602.87" width="2.90" height="7.21" fill="#B9CD96"/>
<rect x="506.99" y="566.82" width="2.90" height="36.04" fill="#93A9CF"/>
<rect x="509.84" y="667.11" width="2.90" height="40.69" fill="#AA4643"/>
<rect x="509.84" y="659.74" width="2.90" height="7.37" fill="#4198AF"/>
<rect x="509.84" y="651.41" width="2.90" height="8.33" fill="#DB843D"/>
<rect x="509.84" y="569.23" width="2.90" height="82.18" fill="#93A9CF"/>
<rect x="509.84" y="556.09" width="2.90" height="13.14" fill="#D19392"/>
<rect x="512.69" y="596.94" width="2.90" height="110.86" fill="#AA4643"/>
<rect x="512.69" y="592.14" width="2.90" height="4.81" fill="#4572A7"/>
<rect x="512.69" y="588.45" width="2.90" height="3.68" fill="#DB843D"/>
<rect x="512.69" y="570.51" width="2.90" height="17.94" fill="#93A9CF"/>
<rect x="515.55" y="704.60" width="2.90" height="3.20" fill="#4572A7"/>
<rect x="515.55" y="696.59" width="2.90" height="8.01" fill="#B9CD96"/>
<rect x="515.55" y="554.33" width="2.90" height="142.26" fill="#4198AF"/>
<rect x="518.40" y="702.99" width="2.90" height="4.81" fill="#4572A7"/>
<rect x="518.40" y="700.59" width="2.90" height="2.40" fill="#89A54E"/>
<rect x="518.40" y="552.57" width="2.90" height="148.02" fill="#4198AF"/>
<rect x="521.25" y="702.99" width="2.90" height="4.81" fill="#4572A7"/>
<rect x="521.25" y="552.57" width="2.90" height="150.43" fill="#4198AF"/>
<rect x="524.10" y="702.19" width="2.90" height="5.61" fill="#4572A7"/>
<rect x="524.10" y="573.55" width="2.90" height="128.64" fill="#4198AF"/>
<rect x="524.10" y="570.51" width="2.90" height="3.04" fill="#DB843D"/>
<rect x="524.10" y="552.57" width="2.90" height="17.94" fill="#93A9CF"/>
<rect x="526.96" y="701.39" width="2.90" height="6.41" fill="#4572A7"/>
<rect x="526.96" y="552.57" width="2.90" height="148.83" fill="#4198AF"/>
<rect x="529.81" y="701.39" width="2.90" height="6.41" fill="#4572A7"/>
<rect x="529.81" y="552.57" width="2.90" height="148.83" fill="#4198AF"/>
<rect x="532.66" y="602.87" width="2.90" height="104.93" fill="#4572A7"/>
<rect x="532.66" y="596.94" width="2.90" height="5.93" fill="#B9CD96"/>
<rect x="532.66" y="588.45" width="2.90" height="8.49" fill="#4198AF"/>
<rect x="532.66" y="550.16" width="2.90" height="38.29" fill="#D19392"/>
<rect x="535.52" y="560.90" width="2.90" height="146.90" fill="#4572A7"/>
<rect x="535.52" y="553.21" width="2.90" height="7.69" fill="#4198AF"/>
<rect x="538.37" y="551.61" width="2.90" height="156.19" fill="#4572A7"/>
<rect x="541.22" y="550.80" width="2.90" height="157.00" fill="#4572A7"/>
<rect x="544.08" y="550.16" width="2.90" height="157.64" fill="#4572A7"/>
<rect x="546.93" y="549.84" width="2.90" height="157.96" fill="#4572A7"/>
<rect x="549.78" y="549.52" width="2.90" height="158.28" fill="#4572A7"/>
<rect x="552.63" y="549.52" width="2.90" height="158.28" fill="#AA4643"/>
<rect x="555.49" y="549.52" width="2.90" height="158.28" fill="#AA4643"/>
<rect x="558.34" y="549.52" width="2.90" height="158.28" fill="#AA4643"/>
<rect x="561.19" y="550.16" width="2.90" height="157.64" fill="#AA4643"/>
<rect x="564.05" y="581.24" width="2.90" height="126.56" fill="#AA4643"/>
<rect x="564.05" y="576.44" width="2.90" height="4.81" fill="#B9CD96"/>
<rect x="564.05" y="558.49" width="2.90" height="17.94" fill="#4198AF"/>
<rect x="564.05" y="551.28" width="2.90" height="7.21" fill="#D19392"/>
<rect x="566.90" y="596.94" width="2.90" height="110.86" fill="#AA4643"/>
<rect x="566.90" y="595.18" width="2.90" height="1.76" fill="#DB843D"/>
<rect x="566.90" y="576.44" width="2.90" height="18.74" fill="#71588F"/>
<rect x="566.90" y="557.37" width="2.90" height="19.06" fill="#DB843D"/>
<rect x="566.90" y="551.28" width="2.90" height="6.09" fill="#D19392"/>
<rect x="569.75" y="704.60" width="2.90" height="3.20" fill="#4572A7"/>
<rect x="569.75" y="612.48" width="2.90" height="92.12" fill="#AA4643"/>
<rect x="569.75" y="565.70" width="2.90" height="46.78" fill="#93A9CF"/>
<rect x="569.75" y="551.28" width="2.90" height="14.42" fill="#D19392"/>
<rect x="572.61" y="698.19" width="2.90" height="9.61" fill="#4572A7"/>
<rect x="572.61" y="613.60" width="2.90" height="84.59" fill="#AA4643"/>
<rect x="572.61" y="598.54" width="2.90" height="15.06" fill="#4198AF"/>
<rect x="572.61" y="595.66" width="2.90" height="2.88" fill="#DB843D"/>
<rect x="572.61" y="563.30" width="2.90" height="32.36" fill="#93A9CF"/>
<rect x="572.61" y="551.28" width="2.90" height="12.01" fill="#D19392"/>
<rect x="575.46" y="702.99" width="2.90" height="4.81" fill="#4572A7"/>
<rect x="575.46" y="632.51" width="2.90" height="70.49" fill="#AA4643"/>
<rect x="575.46" y="610.72" width="2.90" height="21.79" fill="#89A54E"/>
<rect x="575.46" y="608.96" width="2.90" height="1.76" fill="#71588F"/>
<rect x="575.46" y="567.46" width="2.90" height="41.49" fill="#4198AF"/>
<rect x="575.46" y="565.70" width="2.90" height="1.76" fill="#DB843D"/>
<rect x="575.46" y="551.28" width="2.90" height="14.42" fill="#D19392"/>
<rect x="578.31" y="688.58" width="2.90" height="19.22" fill="#4572A7"/>
<rect x="578.31" y="623.37" width="2.90" height="65.20" fill="#AA4643"/>
<rect x="578.31" y="616.01" width="2.90" height="7.37" fill="#4198AF"/>
<rect x="578.31" y="559.78" width="2.90" height="56.23" fill="#93A9CF"/>
<rect x="578.31" y="551.28" width="2.90" height="8.49" fill="#D19392"/>
<rect x="581.16" y="702.99" width="2.90" height="4.81" fill="#4572A7"/>
<rect x="581.16" y="645.48" width="2.90" height="57.51" fill="#AA4643"/>
<rect x="581.16" y="639.39" width="2.90" height="6.09" fill="#89A54E"/>
<rect x="581.16" y="580.12" width="2.90" height="59.27" fill="#4198AF"/>
<rect x="581.16" y="562.18" width="2.90" height="17.94" fill="#93A9CF"/>
<rect x="581.16" y="551.28" width="2.90" height="10.89" fill="#D19392"/>
<rect x="584.02" y="644.20" width="2.90" height="63.60" fill="#4572A7"/>
<rect x="584.02" y="584.29" width="2.90" height="59.91" fill="#AA4643"/>
<rect x="584.02" y="581.88" width="2.90" height="2.40" fill="#71588F"/>
<rect x="584.02" y="562.18" width="2.90" height="19.70" fill="#4198AF"/>
<rect x="584.02" y="551.28" width="2.90" height="10.89" fill="#D19392"/>
<rect x="586.87" y="663.42" width="2.90" height="44.38" fill="#AA4643"/>
<rect x="586.87" y="656.22" width="2.90" height="7.21" fill="#71588F"/>
<rect x="586.87" y="641.80" width="2.90" height="14.42" fill="#DB843D"/>
<rect x="586.87" y="556.09" width="2.90" height="85.71" fill="#93A9CF"/>
<rect x="586.87" y="551.28" width="2.90" height="4.81" fill="#D19392"/>
<rect x="589.72" y="672.40" width="2.90" height="35.40" fill="#AA4643"/>
<rect x="589.72" y="670.63" width="2.90" height="1.76" fill="#DB843D"/>
<rect x="589.72" y="664.55" width="2.90" height="6.09" fill="#4198AF"/>
<rect x="589.72" y="589.73" width="2.90" height="74.81" fill="#93A9CF"/>
<rect x="589.72" y="553.69" width="2.90" height="36.04" fill="#D19392"/>
<rect x="592.58" y="674.16" width="2.90" height="33.64" fill="#AA4643"/>
<rect x="592.58" y="671.75" width="2.90" height="2.40" fill="#89A54E"/>
<rect x="592.58" y="589.73" width="2.90" height="82.02" fill="#93A9CF"/>
<rect x="592.58" y="553.69" width="2.90" height="36.04" fill="#D19392"/>
<rect x="595.43" y="681.37" width="2.90" height="26.43" fill="#AA4643"/>
<rect x="595.43" y="664.55" width="2.90" height="16.82" fill="#89A54E"/>
<rect x="595.43" y="662.14" width="2.90" height="2.40" fill="#4198AF"/>
<rect x="595.43" y="659.74" width="2.90" height="2.40" fill="#DB843D"/>
<rect x="595.43" y="589.73" width="2.90" height="70.01" fill="#93A9CF"/>
<rect x="595.43" y="553.69" width="2.90" height="36.04" fill="#D19392"/>
<rect x="598.28" y="690.98" width="2.90" height="16.82" fill="#4572A7"/>
<rect x="598.28" y="663.42" width="2.90" height="27.55" fill="#AA4643"/>
<rect x="598.28" y="661.02" width="2.90" height="2.40" fill="#71588F"/>
<rect x="598.28" y="643.08" width="2.90" height="17.94" fill="#4198AF"/>
<rect x="598.28" y="574.03" width="2.90" height="69.05" fill="#93A9CF"/>
<rect x="598.28" y="553.69" width="2.90" height="20.35" fill="#D19392"/>
<rect x="601.13" y="698.19" width="2.90" height="9.61" fill="#4572A7"/>
<rect x="601.13" y="671.75" width="2.90" height="26.43" fill="#AA4643"/>
<rect x="601.13" y="590.85" width="2.90" height="80.90" fill="#93A9CF"/>
<rect x="601.13" y="552.41" width="2.90" height="38.45" fill="#D19392"/>
<rect x="603.99" y="693.38" width="2.90" height="14.42" fill="#4572A7"/>
<rect x="603.99" y="668.23" width="2.90" height="25.15" fill="#AA4643"/>
<rect x="603.99" y="661.02" width="2.90" height="7.21" fill="#4198AF"/>
<rect x="603.99" y="571.79" width="2.90" height="89.23" fill="#93A9CF"/>
<rect x="603.99" y="552.41" width="2.90" height="19.38" fill="#D19392"/>
<rect x="606.84" y="700.59" width="2.90" height="7.21" fill="#4572A7"/>
<rect x="606.84" y="677.36" width="2.90" height="23.23" fill="#AA4643"/>
<rect x="606.84" y="555.45" width="2.90" height="121.91" fill="#4198AF"/>
<rect x="609.69" y="702.99" width="2.90" height="4.81" fill="#4572A7"/>
<rect x="609.69" y="682.65" width="2.90" height="20.35" fill="#AA4643"/>
<rect x="609.69" y="673.04" width="2.90" height="9.61" fill="#4198AF"/>
<rect x="609.69" y="598.06" width="2.90" height="74.97" fill="#93A9CF"/>
<rect x="609.69" y="553.69" width="2.90" height="44.38" fill="#D19392"/>
<rect x="612.55" y="698.19" width="2.90" height="9.61" fill="#4572A7"/>
<rect x="612.55" y="682.65" width="2.90" height="15.54" fill="#AA4643"/>
<rect x="612.55" y="678.96" width="2.90" height="3.68" fill="#DB843D"/>
<rect x="612.55" y="669.35" width="2.90" height="9.61" fill="#4198AF"/>
<rect x="612.55" y="596.94" width="2.90" height="72.41" fill="#93A9CF"/>
<rect x="612.55" y="553.69" width="2.90" height="43.25" fill="#D19392"/>
<rect x="615.40" y="699.79" width="2.90" height="8.01" fill="#4572A7"/>
<rect x="615.40" y="687.45" width="2.90" height="12.34" fill="#AA4643"/>
<rect x="615.40" y="670.63" width="2.90" height="16.82" fill="#89A54E"/>
<rect x="615.40" y="615.36" width="2.90" height="55.27" fill="#4198AF"/>
<rect x="615.40" y="568.11" width="2.90" height="47.26" fill="#93A9CF"/>
<rect x="615.40" y="553.69" width="2.90" height="14.42" fill="#D19392"/>
<rect x="618.25" y="665.83" width="2.90" height="41.97" fill="#4572A7"/>
<rect x="618.25" y="654.93" width="2.90" height="10.89" fill="#4198AF"/>
<rect x="618.25" y="636.99" width="2.90" height="17.94" fill="#AA4643"/>
<rect x="618.25" y="557.85" width="2.90" height="79.14" fill="#B9CD96"/>
<rect x="621.11" y="704.60" width="2.90" height="3.20" fill="#4572A7"/>
<rect x="621.11" y="690.98" width="2.90" height="13.62" fill="#AA4643"/>
<rect x="621.11" y="674.16" width="2.90" height="16.82" fill="#89A54E"/>
<rect x="621.11" y="666.95" width="2.90" height="7.21" fill="#71588F"/>
<rect x="621.11" y="640.52" width="2.90" height="26.43" fill="#4198AF"/>
<rect x="621.11" y="595.66" width="2.90" height="44.86" fill="#93A9CF"/>
<rect x="621.11" y="558.49" width="2.90" height="37.17" fill="#D19392"/>
<rect x="623.96" y="704.60" width="2.90" height="3.20" fill="#4572A7"/>
<rect x="623.96" y="690.98" width="2.90" height="13.62" fill="#AA4643"/>
<rect x="623.96" y="662.14" width="2.90" height="28.84" fill="#89A54E"/>
<rect x="623.96" y="607.67" width="2.90" height="54.47" fill="#4198AF"/>
<rect x="623.96" y="560.90" width="2.90" height="46.78" fill="#93A9CF"/>
<rect x="626.81" y="666.95" width="2.90" height="40.85" fill="#4572A7"/>
<rect x="626.81" y="663.42" width="2.90" height="3.52" fill="#DB843D"/>
<rect x="626.81" y="653.81" width="2.90" height="9.61" fill="#71588F"/>
<rect x="626.81" y="636.99" width="2.90" height="16.82" fill="#4198AF"/>
<rect x="626.81" y="604.15" width="2.90" height="32.84" fill="#DB843D"/>
<rect x="626.81" y="568.11" width="2.90" height="36.04" fill="#93A9CF"/>
<rect x="626.81" y="557.21" width="2.90" height="10.89" fill="#D19392"/>
<rect x="629.66" y="700.59" width="2.90" height="7.21" fill="#B9CD96"/>
<rect x="629.66" y="639.39" width="2.90" height="61.20" fill="#89A54E"/>
<rect x="629.66" y="635.71" width="2.90" height="3.68" fill="#4198AF"/>
<rect x="629.66" y="572.91" width="2.90" height="62.80" fill="#DB843D"/>
<rect x="629.66" y="555.61" width="2.90" height="17.30" fill="#D19392"/>
<rect x="632.52" y="700.59" width="2.90" height="7.21" fill="#B9CD96"/>
<rect x="632.52" y="568.11" width="2.90" height="132.49" fill="#4198AF"/>
<rect x="632.52" y="555.61" width="2.90" height="12.50" fill="#D19392"/>
<rect x="635.37" y="586.05" width="2.90" height="121.75" fill="#4572A7"/>
<rect x="635.37" y="583.64" width="2.90" height="2.40" fill="#B9CD96"/>
<rect x="635.37" y="578.84" width="2.90" height="4.81" fill="#71588F"/>
<rect x="635.37" y="574.03" width="2.90" height="4.81" fill="#4198AF"/>
<rect x="635.37" y="560.42" width="2.90" height="13.62" fill="#D19392"/>
<rect x="635.37" y="557.85" width="2.90" height="2.56" fill="#B9CD96"/>
<rect x="638.22" y="690.98" width="2.90" height="16.82" fill="#AA4643"/>
<rect x="638.22" y="562.18" width="2.90" height="128.80" fill="#B9CD96"/>
<rect x="641.08" y="690.98" width="2.90" height="16.82" fill="#AA4643"/>
<rect x="641.08" y="562.18" width="2.90" height="128.80" fill="#B9CD96"/>
<rect x="643.93" y="690.98" width="2.90" height="16.82" fill="#AA4643"/>
<rect x="643.93" y="562.18" width="2.90" height="128.80" fill="#B9CD96"/>
<rect x="646.78" y="690.98" width="2.90" height="16.82" fill="#AA4643"/>
<rect x="646.78" y="562.18" width="2.90" height="128.80" fill="#B9CD96"/>
<rect x="649.64" y="690.98" width="2.90" height="16.82" fill="#AA4643"/>
<rect x="649.64" y="562.18" width="2.90" height="128.80" fill="#B9CD96"/>
<rect x="652.49" y="635.87" width="2.90" height="71.93" fill="#AA4643"/>
<rect x="652.49" y="557.37" width="2.90" height="78.50" fill="#B9CD96"/>
</g>
<g shape-rendering="auto">
<line x1="45.6" y1="45.5" x2="45.6" y2="205.7" stroke="#e4e4e4" stroke-width="0.8"/>
<line x1="41.9" y1="205.5" x2="655.4" y2="205.5" stroke="#8a8a8a" stroke-opacity="0.45" stroke-width="0.9"/>
<line x1="41.9" y1="45.5" x2="45.6" y2="45.5" stroke="#dcdcdc" stroke-width="0.8"/>
<line x1="41.9" y1="77.5" x2="45.6" y2="77.5" stroke="#dcdcdc" stroke-width="0.8"/>
<line x1="41.9" y1="109.5" x2="45.6" y2="109.5" stroke="#dcdcdc" stroke-width="0.8"/>
<line x1="41.9" y1="141.5" x2="45.6" y2="141.5" stroke="#dcdcdc" stroke-width="0.8"/>
<line x1="41.9" y1="173.5" x2="45.6" y2="173.5" stroke="#dcdcdc" stroke-width="0.8"/>
<line x1="41.9" y1="205.5" x2="45.6" y2="205.5" stroke="#dcdcdc" stroke-width="0.8"/>
<line x1="262.7" y1="29.0" x2="262.7" y2="206.2" stroke="#000" stroke-width="1.6"/>
<line x1="447.6" y1="29.0" x2="447.6" y2="206.2" stroke="#000" stroke-width="1.6"/>
<line x1="553.0" y1="29.0" x2="553.0" y2="206.2" stroke="#000" stroke-width="1.6"/>
<line x1="639.4" y1="29.0" x2="639.4" y2="206.2" stroke="#000" stroke-width="1.6"/>
<line x1="44.7" y1="296.6" x2="44.7" y2="456.8" stroke="#e4e4e4" stroke-width="0.8"/>
<line x1="41.0" y1="456.6" x2="655.4" y2="456.6" stroke="#8a8a8a" stroke-opacity="0.45" stroke-width="0.9"/>
<line x1="41.0" y1="296.6" x2="44.7" y2="296.6" stroke="#dcdcdc" stroke-width="0.8"/>
<line x1="41.0" y1="328.6" x2="44.7" y2="328.6" stroke="#dcdcdc" stroke-width="0.8"/>
<line x1="41.0" y1="360.6" x2="44.7" y2="360.6" stroke="#dcdcdc" stroke-width="0.8"/>
<line x1="41.0" y1="392.6" x2="44.7" y2="392.6" stroke="#dcdcdc" stroke-width="0.8"/>
<line x1="41.0" y1="424.6" x2="44.7" y2="424.6" stroke="#dcdcdc" stroke-width="0.8"/>
<line x1="41.0" y1="456.6" x2="44.7" y2="456.6" stroke="#dcdcdc" stroke-width="0.8"/>
<line x1="262.1" y1="280.1" x2="262.1" y2="457.3" stroke="#000" stroke-width="1.6"/>
<line x1="447.3" y1="280.1" x2="447.3" y2="457.3" stroke="#000" stroke-width="1.6"/>
<line x1="552.8" y1="280.1" x2="552.8" y2="457.3" stroke="#000" stroke-width="1.6"/>
<line x1="639.3" y1="280.1" x2="639.3" y2="457.3" stroke="#000" stroke-width="1.6"/>
<line x1="44.5" y1="547.6" x2="44.5" y2="707.8" stroke="#e4e4e4" stroke-width="0.8"/>
<line x1="40.8" y1="707.5999999999999" x2="655.4" y2="707.5999999999999" stroke="#8a8a8a" stroke-opacity="0.45" stroke-width="0.9"/>
<line x1="40.8" y1="547.6" x2="44.5" y2="547.6" stroke="#dcdcdc" stroke-width="0.8"/>
<line x1="40.8" y1="579.6" x2="44.5" y2="579.6" stroke="#dcdcdc" stroke-width="0.8"/>
<line x1="40.8" y1="611.6" x2="44.5" y2="611.6" stroke="#dcdcdc" stroke-width="0.8"/>
<line x1="40.8" y1="643.6" x2="44.5" y2="643.6" stroke="#dcdcdc" stroke-width="0.8"/>
<line x1="40.8" y1="675.6" x2="44.5" y2="675.6" stroke="#dcdcdc" stroke-width="0.8"/>
<line x1="40.8" y1="707.6" x2="44.5" y2="707.6" stroke="#dcdcdc" stroke-width="0.8"/>
<line x1="261.7" y1="531.1" x2="261.7" y2="708.3" stroke="#000" stroke-width="1.6"/>
<line x1="447.2" y1="531.1" x2="447.2" y2="708.3" stroke="#000" stroke-width="1.6"/>
<line x1="552.6" y1="531.1" x2="552.6" y2="708.3" stroke="#000" stroke-width="1.6"/>
<line x1="639.2" y1="531.1" x2="639.2" y2="708.3" stroke="#000" stroke-width="1.6"/>
</g>
</svg>
<div class="pl" style="top:13.6px">(A)</div>
<div class="g" style="left:144.4px;top:22.9px">landraces</div>
<div class="g" style="left:349.4px;top:22.9px">processing</div>
<div class="g" style="left:499px;top:22.9px">fresh-market</div>
<div class="g" style="left:592.5px;top:22.9px">cherry</div>
<div class="g" style="left:662.6px;top:22.9px;letter-spacing:0.75px">wild</div>
<div class="y" style="top:39.0px">1</div>
<div class="y" style="top:71.0px">0.8</div>
<div class="y" style="top:103.0px">0.6</div>
<div class="y" style="top:135.0px">0.4</div>
<div class="y" style="top:167.0px">0.2</div>
<div class="y" style="top:199.0px">0</div>
<div class="pl" style="top:262.4px">(B)</div>
<div class="g" style="left:144.4px;top:275.9px">landraces</div>
<div class="g" style="left:349.4px;top:275.9px">processing</div>
<div class="g" style="left:499px;top:275.9px">fresh-market</div>
<div class="g" style="left:592.5px;top:275.9px">cherry</div>
<div class="g" style="left:662.6px;top:275.9px;letter-spacing:0.75px">wild</div>
<div class="y" style="top:290.1px">1</div>
<div class="y" style="top:322.1px">0.8</div>
<div class="y" style="top:354.1px">0.6</div>
<div class="y" style="top:386.1px">0.4</div>
<div class="y" style="top:418.1px">0.2</div>
<div class="y" style="top:450.1px">0</div>
<div class="pl" style="top:509.9px">(C)</div>
<div class="g" style="left:144.4px;top:528.6px">landraces</div>
<div class="g" style="left:349.4px;top:528.6px">processing</div>
<div class="g" style="left:499px;top:528.6px">fresh-market</div>
<div class="g" style="left:592.5px;top:528.6px">cherry</div>
<div class="g" style="left:662.6px;top:528.6px;letter-spacing:0.75px">wild</div>
<div class="y" style="top:541.1px">1</div>
<div class="y" style="top:573.1px">0.8</div>
<div class="y" style="top:605.1px">0.6</div>
<div class="y" style="top:637.1px">0.4</div>
<div class="y" style="top:669.1px">0.2</div>
<div class="y" style="top:701.1px">0</div>
</body></html>
